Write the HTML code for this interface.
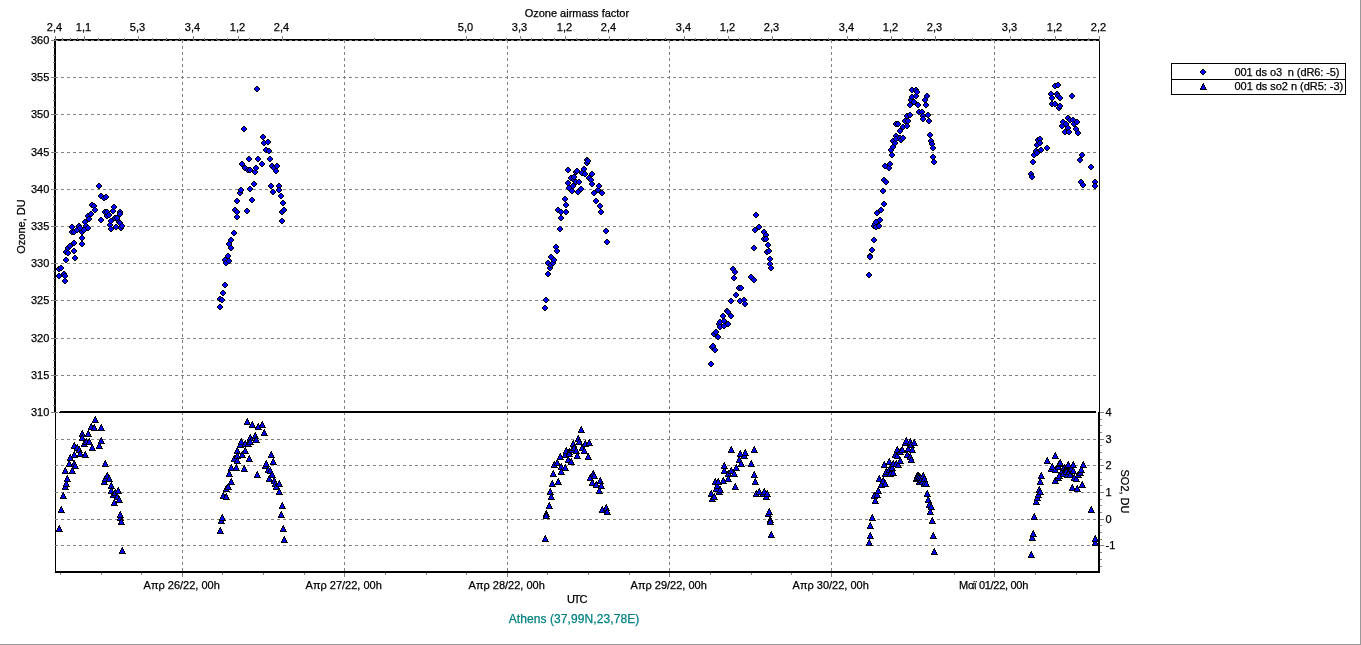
<!DOCTYPE html>
<html lang="el"><head><meta charset="utf-8"><title>Ozone / SO2 chart</title>
<style>
html,body{margin:0;padding:0;background:#fff;overflow:hidden}
body{width:1361px;height:645px;position:relative}
svg{position:absolute;left:0;top:0;display:block}
text{font-family:"Liberation Sans",Arial,sans-serif;font-size:11px;fill:#000;stroke:#000;stroke-width:0.25px}
.g{shape-rendering:crispEdges}
.k{fill:#000}.b{fill:#00f}
.gr{stroke:#808080;stroke-width:1;stroke-dasharray:3 3;fill:none}
.tk{stroke:#808080;stroke-width:1;fill:none}
.ax{fill:#000}
.m{text-anchor:middle}.e{text-anchor:end}
</style></head><body>
<svg width="1361" height="645" viewBox="0 0 1361 645">
<rect width="1361" height="645" fill="#fff"/>
<g class="g">
<rect x="1360" y="0" width="1" height="645" fill="#999"/>
<rect x="0" y="644" width="1361" height="1" fill="#999"/>
<rect class="ax" x="54" y="39" width="2" height="374"/>
<rect class="ax" x="55" y="413" width="1" height="160"/>
<rect class="ax" x="54" y="39" width="1046" height="2"/>
<rect class="ax" x="1099" y="39" width="1" height="373"/>
<rect class="ax" x="1098" y="412" width="2" height="161"/>
<rect class="ax" x="55" y="571" width="1045" height="2"/>
<path class="gr" d="M55 40.5H1097"/>
<path class="gr" d="M55 77.5H1097"/>
<path class="gr" d="M55 114.5H1097"/>
<path class="gr" d="M55 152.5H1097"/>
<path class="gr" d="M55 189.5H1097"/>
<path class="gr" d="M55 226.5H1097"/>
<path class="gr" d="M55 263.5H1097"/>
<path class="gr" d="M55 300.5H1097"/>
<path class="gr" d="M55 338.5H1097"/>
<path class="gr" d="M55 375.5H1097"/>
<path class="gr" d="M55 439.5H1097"/>
<path class="gr" d="M55 465.5H1097"/>
<path class="gr" d="M55 492.5H1097"/>
<path class="gr" d="M55 519.5H1097"/>
<path class="gr" d="M55 545.5H1097"/>
<path class="gr" d="M182.5 40V571"/>
<path class="gr" d="M344.5 40V571"/>
<path class="gr" d="M507.5 40V571"/>
<path class="gr" d="M669.5 40V571"/>
<path class="gr" d="M831.5 40V571"/>
<path class="gr" d="M994.5 40V571"/>
<path class="tk" d="M51 40.5H58"/>
<path class="tk" d="M51 77.5H58"/>
<path class="tk" d="M51 114.5H58"/>
<path class="tk" d="M51 152.5H58"/>
<path class="tk" d="M51 189.5H58"/>
<path class="tk" d="M51 226.5H58"/>
<path class="tk" d="M51 263.5H58"/>
<path class="tk" d="M51 300.5H58"/>
<path class="tk" d="M51 338.5H58"/>
<path class="tk" d="M51 375.5H58"/>
<path class="tk" d="M51 412.5H58"/>
<path class="tk" d="M53 47.5H55"/>
<path class="tk" d="M53 55.5H55"/>
<path class="tk" d="M53 62.5H55"/>
<path class="tk" d="M53 70.5H55"/>
<path class="tk" d="M53 85.5H55"/>
<path class="tk" d="M53 92.5H55"/>
<path class="tk" d="M53 100.5H55"/>
<path class="tk" d="M53 107.5H55"/>
<path class="tk" d="M53 122.5H55"/>
<path class="tk" d="M53 129.5H55"/>
<path class="tk" d="M53 137.5H55"/>
<path class="tk" d="M53 144.5H55"/>
<path class="tk" d="M53 159.5H55"/>
<path class="tk" d="M53 166.5H55"/>
<path class="tk" d="M53 174.5H55"/>
<path class="tk" d="M53 181.5H55"/>
<path class="tk" d="M53 196.5H55"/>
<path class="tk" d="M53 204.5H55"/>
<path class="tk" d="M53 211.5H55"/>
<path class="tk" d="M53 219.5H55"/>
<path class="tk" d="M53 233.5H55"/>
<path class="tk" d="M53 241.5H55"/>
<path class="tk" d="M53 248.5H55"/>
<path class="tk" d="M53 256.5H55"/>
<path class="tk" d="M53 271.5H55"/>
<path class="tk" d="M53 278.5H55"/>
<path class="tk" d="M53 286.5H55"/>
<path class="tk" d="M53 293.5H55"/>
<path class="tk" d="M53 308.5H55"/>
<path class="tk" d="M53 315.5H55"/>
<path class="tk" d="M53 323.5H55"/>
<path class="tk" d="M53 330.5H55"/>
<path class="tk" d="M53 345.5H55"/>
<path class="tk" d="M53 352.5H55"/>
<path class="tk" d="M53 360.5H55"/>
<path class="tk" d="M53 367.5H55"/>
<path class="tk" d="M53 382.5H55"/>
<path class="tk" d="M53 390.5H55"/>
<path class="tk" d="M53 397.5H55"/>
<path class="tk" d="M53 405.5H55"/>
<path class="tk" d="M1100 412.5H1104"/>
<path class="tk" d="M1100 439.5H1104"/>
<path class="tk" d="M1100 465.5H1104"/>
<path class="tk" d="M1100 492.5H1104"/>
<path class="tk" d="M1100 519.5H1104"/>
<path class="tk" d="M1100 545.5H1104"/>
<path class="tk" d="M1100 419.5H1102"/>
<path class="tk" d="M1100 425.5H1102"/>
<path class="tk" d="M1100 432.5H1102"/>
<path class="tk" d="M1100 445.5H1102"/>
<path class="tk" d="M1100 452.5H1102"/>
<path class="tk" d="M1100 459.5H1102"/>
<path class="tk" d="M1100 472.5H1102"/>
<path class="tk" d="M1100 479.5H1102"/>
<path class="tk" d="M1100 485.5H1102"/>
<path class="tk" d="M1100 499.5H1102"/>
<path class="tk" d="M1100 505.5H1102"/>
<path class="tk" d="M1100 512.5H1102"/>
<path class="tk" d="M1100 525.5H1102"/>
<path class="tk" d="M1100 532.5H1102"/>
<path class="tk" d="M1100 539.5H1102"/>
<path class="tk" d="M1100 552.5H1102"/>
<path class="tk" d="M1100 559.5H1102"/>
<path class="tk" d="M1100 566.5H1102"/>
<path class="tk" d="M55.5 36V41"/>
<path class="tk" d="M84.5 36V41"/>
<path class="tk" d="M138.5 36V41"/>
<path class="tk" d="M193.5 36V41"/>
<path class="tk" d="M238.5 36V41"/>
<path class="tk" d="M282.5 36V41"/>
<path class="tk" d="M466.5 36V41"/>
<path class="tk" d="M520.5 36V41"/>
<path class="tk" d="M565.5 36V41"/>
<path class="tk" d="M609.5 36V41"/>
<path class="tk" d="M684.5 36V41"/>
<path class="tk" d="M728.5 36V41"/>
<path class="tk" d="M772.5 36V41"/>
<path class="tk" d="M847.5 36V41"/>
<path class="tk" d="M891.5 36V41"/>
<path class="tk" d="M935.5 36V41"/>
<path class="tk" d="M1010.5 36V41"/>
<path class="tk" d="M1055.5 36V41"/>
<path class="tk" d="M1099.5 36V41"/>
<path class="tk" d="M62.5 38V40"/>
<path class="tk" d="M70.5 38V40"/>
<path class="tk" d="M77.5 38V40"/>
<path class="tk" d="M98.5 38V40"/>
<path class="tk" d="M111.5 38V40"/>
<path class="tk" d="M124.5 38V40"/>
<path class="tk" d="M152.5 38V40"/>
<path class="tk" d="M166.5 38V40"/>
<path class="tk" d="M179.5 38V40"/>
<path class="tk" d="M204.5 38V40"/>
<path class="tk" d="M216.5 38V40"/>
<path class="tk" d="M227.5 38V40"/>
<path class="tk" d="M249.5 38V40"/>
<path class="tk" d="M260.5 38V40"/>
<path class="tk" d="M271.5 38V40"/>
<path class="tk" d="M328.5 38V40"/>
<path class="tk" d="M374.5 38V40"/>
<path class="tk" d="M420.5 38V40"/>
<path class="tk" d="M480.5 38V40"/>
<path class="tk" d="M493.5 38V40"/>
<path class="tk" d="M506.5 38V40"/>
<path class="tk" d="M531.5 38V40"/>
<path class="tk" d="M542.5 38V40"/>
<path class="tk" d="M554.5 38V40"/>
<path class="tk" d="M576.5 38V40"/>
<path class="tk" d="M587.5 38V40"/>
<path class="tk" d="M598.5 38V40"/>
<path class="tk" d="M628.5 38V40"/>
<path class="tk" d="M646.5 38V40"/>
<path class="tk" d="M665.5 38V40"/>
<path class="tk" d="M695.5 38V40"/>
<path class="tk" d="M706.5 38V40"/>
<path class="tk" d="M717.5 38V40"/>
<path class="tk" d="M739.5 38V40"/>
<path class="tk" d="M750.5 38V40"/>
<path class="tk" d="M761.5 38V40"/>
<path class="tk" d="M791.5 38V40"/>
<path class="tk" d="M810.5 38V40"/>
<path class="tk" d="M828.5 38V40"/>
<path class="tk" d="M858.5 38V40"/>
<path class="tk" d="M869.5 38V40"/>
<path class="tk" d="M880.5 38V40"/>
<path class="tk" d="M902.5 38V40"/>
<path class="tk" d="M913.5 38V40"/>
<path class="tk" d="M924.5 38V40"/>
<path class="tk" d="M954.5 38V40"/>
<path class="tk" d="M972.5 38V40"/>
<path class="tk" d="M991.5 38V40"/>
<path class="tk" d="M1021.5 38V40"/>
<path class="tk" d="M1032.5 38V40"/>
<path class="tk" d="M1044.5 38V40"/>
<path class="tk" d="M1066.5 38V40"/>
<path class="tk" d="M1077.5 38V40"/>
<path class="tk" d="M1088.5 38V40"/>
<path class="tk" d="M182.5 573V577"/>
<path class="tk" d="M344.5 573V577"/>
<path class="tk" d="M507.5 573V577"/>
<path class="tk" d="M669.5 573V577"/>
<path class="tk" d="M831.5 573V577"/>
<path class="tk" d="M994.5 573V577"/>
<path class="tk" d="M60.5 573V575"/>
<path class="tk" d="M101.5 573V575"/>
<path class="tk" d="M141.5 573V575"/>
<path class="tk" d="M222.5 573V575"/>
<path class="tk" d="M263.5 573V575"/>
<path class="tk" d="M304.5 573V575"/>
<path class="tk" d="M385.5 573V575"/>
<path class="tk" d="M426.5 573V575"/>
<path class="tk" d="M466.5 573V575"/>
<path class="tk" d="M547.5 573V575"/>
<path class="tk" d="M588.5 573V575"/>
<path class="tk" d="M629.5 573V575"/>
<path class="tk" d="M710.5 573V575"/>
<path class="tk" d="M751.5 573V575"/>
<path class="tk" d="M791.5 573V575"/>
<path class="tk" d="M872.5 573V575"/>
<path class="tk" d="M913.5 573V575"/>
<path class="tk" d="M954.5 573V575"/>
<path class="tk" d="M1035.5 573V575"/>
<path class="tk" d="M1076.5 573V575"/>
<rect class="ax" x="60" y="411" width="1036" height="2"/><rect class="ax" x="59" y="412" width="1" height="1"/>
</g>
<g class="g">
<path class="k" d="M58 266h2v1h1v1h1v2h-1v1h-1v1h-2v-1h-1v-1h-1v-2h1v-1h1z"/><path class="b" d="M58 267h2v1h1v2h-1v1h-2v-1h-1v-2h1z"/>
<path class="k" d="M58 273h2v1h1v1h1v2h-1v1h-1v1h-2v-1h-1v-1h-1v-2h1v-1h1z"/><path class="b" d="M58 274h2v1h1v2h-1v1h-2v-1h-1v-2h1z"/>
<path class="k" d="M60 265h2v1h1v1h1v2h-1v1h-1v1h-2v-1h-1v-1h-1v-2h1v-1h1z"/><path class="b" d="M60 266h2v1h1v2h-1v1h-2v-1h-1v-2h1z"/>
<path class="k" d="M63 271h2v1h1v1h1v2h-1v1h-1v1h-2v-1h-1v-1h-1v-2h1v-1h1z"/><path class="b" d="M63 272h2v1h1v2h-1v1h-2v-1h-1v-2h1z"/>
<path class="k" d="M64 278h2v1h1v1h1v2h-1v1h-1v1h-2v-1h-1v-1h-1v-2h1v-1h1z"/><path class="b" d="M64 279h2v1h1v2h-1v1h-2v-1h-1v-2h1z"/>
<path class="k" d="M64 273h2v1h1v1h1v2h-1v1h-1v1h-2v-1h-1v-1h-1v-2h1v-1h1z"/><path class="b" d="M64 274h2v1h1v2h-1v1h-2v-1h-1v-2h1z"/>
<path class="k" d="M65 257h2v1h1v1h1v2h-1v1h-1v1h-2v-1h-1v-1h-1v-2h1v-1h1z"/><path class="b" d="M65 258h2v1h1v2h-1v1h-2v-1h-1v-2h1z"/>
<path class="k" d="M65 249h2v1h1v1h1v2h-1v1h-1v1h-2v-1h-1v-1h-1v-2h1v-1h1z"/><path class="b" d="M65 250h2v1h1v2h-1v1h-2v-1h-1v-2h1z"/>
<path class="k" d="M67 250h2v1h1v1h1v2h-1v1h-1v1h-2v-1h-1v-1h-1v-2h1v-1h1z"/><path class="b" d="M67 251h2v1h1v2h-1v1h-2v-1h-1v-2h1z"/>
<path class="k" d="M67 245h2v1h1v1h1v2h-1v1h-1v1h-2v-1h-1v-1h-1v-2h1v-1h1z"/><path class="b" d="M67 246h2v1h1v2h-1v1h-2v-1h-1v-2h1z"/>
<path class="k" d="M69 243h2v1h1v1h1v2h-1v1h-1v1h-2v-1h-1v-1h-1v-2h1v-1h1z"/><path class="b" d="M69 244h2v1h1v2h-1v1h-2v-1h-1v-2h1z"/>
<path class="k" d="M71 224h2v1h1v1h1v2h-1v1h-1v1h-2v-1h-1v-1h-1v-2h1v-1h1z"/><path class="b" d="M71 225h2v1h1v2h-1v1h-2v-1h-1v-2h1z"/>
<path class="k" d="M71 229h2v1h1v1h1v2h-1v1h-1v1h-2v-1h-1v-1h-1v-2h1v-1h1z"/><path class="b" d="M71 230h2v1h1v2h-1v1h-2v-1h-1v-2h1z"/>
<path class="k" d="M73 240h2v1h1v1h1v2h-1v1h-1v1h-2v-1h-1v-1h-1v-2h1v-1h1z"/><path class="b" d="M73 241h2v1h1v2h-1v1h-2v-1h-1v-2h1z"/>
<path class="k" d="M73 248h2v1h1v1h1v2h-1v1h-1v1h-2v-1h-1v-1h-1v-2h1v-1h1z"/><path class="b" d="M73 249h2v1h1v2h-1v1h-2v-1h-1v-2h1z"/>
<path class="k" d="M73 229h2v1h1v1h1v2h-1v1h-1v1h-2v-1h-1v-1h-1v-2h1v-1h1z"/><path class="b" d="M73 230h2v1h1v2h-1v1h-2v-1h-1v-2h1z"/>
<path class="k" d="M74 255h2v1h1v1h1v2h-1v1h-1v1h-2v-1h-1v-1h-1v-2h1v-1h1z"/><path class="b" d="M74 256h2v1h1v2h-1v1h-2v-1h-1v-2h1z"/>
<path class="k" d="M76 227h2v1h1v1h1v2h-1v1h-1v1h-2v-1h-1v-1h-1v-2h1v-1h1z"/><path class="b" d="M76 228h2v1h1v2h-1v1h-2v-1h-1v-2h1z"/>
<path class="k" d="M78 223h2v1h1v1h1v2h-1v1h-1v1h-2v-1h-1v-1h-1v-2h1v-1h1z"/><path class="b" d="M78 224h2v1h1v2h-1v1h-2v-1h-1v-2h1z"/>
<path class="k" d="M79 225h2v1h1v1h1v2h-1v1h-1v1h-2v-1h-1v-1h-1v-2h1v-1h1z"/><path class="b" d="M79 226h2v1h1v2h-1v1h-2v-1h-1v-2h1z"/>
<path class="k" d="M81 235h2v1h1v1h1v2h-1v1h-1v1h-2v-1h-1v-1h-1v-2h1v-1h1z"/><path class="b" d="M81 236h2v1h1v2h-1v1h-2v-1h-1v-2h1z"/>
<path class="k" d="M81 241h2v1h1v1h1v2h-1v1h-1v1h-2v-1h-1v-1h-1v-2h1v-1h1z"/><path class="b" d="M81 242h2v1h1v2h-1v1h-2v-1h-1v-2h1z"/>
<path class="k" d="M81 229h2v1h1v1h1v2h-1v1h-1v1h-2v-1h-1v-1h-1v-2h1v-1h1z"/><path class="b" d="M81 230h2v1h1v2h-1v1h-2v-1h-1v-2h1z"/>
<path class="k" d="M83 227h2v1h1v1h1v2h-1v1h-1v1h-2v-1h-1v-1h-1v-2h1v-1h1z"/><path class="b" d="M83 228h2v1h1v2h-1v1h-2v-1h-1v-2h1z"/>
<path class="k" d="M84 219h2v1h1v1h1v2h-1v1h-1v1h-2v-1h-1v-1h-1v-2h1v-1h1z"/><path class="b" d="M84 220h2v1h1v2h-1v1h-2v-1h-1v-2h1z"/>
<path class="k" d="M85 223h2v1h1v1h1v2h-1v1h-1v1h-2v-1h-1v-1h-1v-2h1v-1h1z"/><path class="b" d="M85 224h2v1h1v2h-1v1h-2v-1h-1v-2h1z"/>
<path class="k" d="M87 225h2v1h1v1h1v2h-1v1h-1v1h-2v-1h-1v-1h-1v-2h1v-1h1z"/><path class="b" d="M87 226h2v1h1v2h-1v1h-2v-1h-1v-2h1z"/>
<path class="k" d="M87 213h2v1h1v1h1v2h-1v1h-1v1h-2v-1h-1v-1h-1v-2h1v-1h1z"/><path class="b" d="M87 214h2v1h1v2h-1v1h-2v-1h-1v-2h1z"/>
<path class="k" d="M88 216h2v1h1v1h1v2h-1v1h-1v1h-2v-1h-1v-1h-1v-2h1v-1h1z"/><path class="b" d="M88 217h2v1h1v2h-1v1h-2v-1h-1v-2h1z"/>
<path class="k" d="M90 211h2v1h1v1h1v2h-1v1h-1v1h-2v-1h-1v-1h-1v-2h1v-1h1z"/><path class="b" d="M90 212h2v1h1v2h-1v1h-2v-1h-1v-2h1z"/>
<path class="k" d="M91 202h2v1h1v1h1v2h-1v1h-1v1h-2v-1h-1v-1h-1v-2h1v-1h1z"/><path class="b" d="M91 203h2v1h1v2h-1v1h-2v-1h-1v-2h1z"/>
<path class="k" d="M93 203h2v1h1v1h1v2h-1v1h-1v1h-2v-1h-1v-1h-1v-2h1v-1h1z"/><path class="b" d="M93 204h2v1h1v2h-1v1h-2v-1h-1v-2h1z"/>
<path class="k" d="M94 207h2v1h1v1h1v2h-1v1h-1v1h-2v-1h-1v-1h-1v-2h1v-1h1z"/><path class="b" d="M94 208h2v1h1v2h-1v1h-2v-1h-1v-2h1z"/>
<path class="k" d="M98 183h2v1h1v1h1v2h-1v1h-1v1h-2v-1h-1v-1h-1v-2h1v-1h1z"/><path class="b" d="M98 184h2v1h1v2h-1v1h-2v-1h-1v-2h1z"/>
<path class="k" d="M100 193h2v1h1v1h1v2h-1v1h-1v1h-2v-1h-1v-1h-1v-2h1v-1h1z"/><path class="b" d="M100 194h2v1h1v2h-1v1h-2v-1h-1v-2h1z"/>
<path class="k" d="M100 217h2v1h1v1h1v2h-1v1h-1v1h-2v-1h-1v-1h-1v-2h1v-1h1z"/><path class="b" d="M100 218h2v1h1v2h-1v1h-2v-1h-1v-2h1z"/>
<path class="k" d="M103 195h2v1h1v1h1v2h-1v1h-1v1h-2v-1h-1v-1h-1v-2h1v-1h1z"/><path class="b" d="M103 196h2v1h1v2h-1v1h-2v-1h-1v-2h1z"/>
<path class="k" d="M104 209h2v1h1v1h1v2h-1v1h-1v1h-2v-1h-1v-1h-1v-2h1v-1h1z"/><path class="b" d="M104 210h2v1h1v2h-1v1h-2v-1h-1v-2h1z"/>
<path class="k" d="M105 194h2v1h1v1h1v2h-1v1h-1v1h-2v-1h-1v-1h-1v-2h1v-1h1z"/><path class="b" d="M105 195h2v1h1v2h-1v1h-2v-1h-1v-2h1z"/>
<path class="k" d="M106 213h2v1h1v1h1v2h-1v1h-1v1h-2v-1h-1v-1h-1v-2h1v-1h1z"/><path class="b" d="M106 214h2v1h1v2h-1v1h-2v-1h-1v-2h1z"/>
<path class="k" d="M106 209h2v1h1v1h1v2h-1v1h-1v1h-2v-1h-1v-1h-1v-2h1v-1h1z"/><path class="b" d="M106 210h2v1h1v2h-1v1h-2v-1h-1v-2h1z"/>
<path class="k" d="M108 212h2v1h1v1h1v2h-1v1h-1v1h-2v-1h-1v-1h-1v-2h1v-1h1z"/><path class="b" d="M108 213h2v1h1v2h-1v1h-2v-1h-1v-2h1z"/>
<path class="k" d="M109 222h2v1h1v1h1v2h-1v1h-1v1h-2v-1h-1v-1h-1v-2h1v-1h1z"/><path class="b" d="M109 223h2v1h1v2h-1v1h-2v-1h-1v-2h1z"/>
<path class="k" d="M110 218h2v1h1v1h1v2h-1v1h-1v1h-2v-1h-1v-1h-1v-2h1v-1h1z"/><path class="b" d="M110 219h2v1h1v2h-1v1h-2v-1h-1v-2h1z"/>
<path class="k" d="M110 226h2v1h1v1h1v2h-1v1h-1v1h-2v-1h-1v-1h-1v-2h1v-1h1z"/><path class="b" d="M110 227h2v1h1v2h-1v1h-2v-1h-1v-2h1z"/>
<path class="k" d="M112 208h2v1h1v1h1v2h-1v1h-1v1h-2v-1h-1v-1h-1v-2h1v-1h1z"/><path class="b" d="M112 209h2v1h1v2h-1v1h-2v-1h-1v-2h1z"/>
<path class="k" d="M113 204h2v1h1v1h1v2h-1v1h-1v1h-2v-1h-1v-1h-1v-2h1v-1h1z"/><path class="b" d="M113 205h2v1h1v2h-1v1h-2v-1h-1v-2h1z"/>
<path class="k" d="M114 215h2v1h1v1h1v2h-1v1h-1v1h-2v-1h-1v-1h-1v-2h1v-1h1z"/><path class="b" d="M114 216h2v1h1v2h-1v1h-2v-1h-1v-2h1z"/>
<path class="k" d="M115 224h2v1h1v1h1v2h-1v1h-1v1h-2v-1h-1v-1h-1v-2h1v-1h1z"/><path class="b" d="M115 225h2v1h1v2h-1v1h-2v-1h-1v-2h1z"/>
<path class="k" d="M116 215h2v1h1v1h1v2h-1v1h-1v1h-2v-1h-1v-1h-1v-2h1v-1h1z"/><path class="b" d="M116 216h2v1h1v2h-1v1h-2v-1h-1v-2h1z"/>
<path class="k" d="M118 219h2v1h1v1h1v2h-1v1h-1v1h-2v-1h-1v-1h-1v-2h1v-1h1z"/><path class="b" d="M118 220h2v1h1v2h-1v1h-2v-1h-1v-2h1z"/>
<path class="k" d="M119 209h2v1h1v1h1v2h-1v1h-1v1h-2v-1h-1v-1h-1v-2h1v-1h1z"/><path class="b" d="M119 210h2v1h1v2h-1v1h-2v-1h-1v-2h1z"/>
<path class="k" d="M119 211h2v1h1v1h1v2h-1v1h-1v1h-2v-1h-1v-1h-1v-2h1v-1h1z"/><path class="b" d="M119 212h2v1h1v2h-1v1h-2v-1h-1v-2h1z"/>
<path class="k" d="M119 220h2v1h1v1h1v2h-1v1h-1v1h-2v-1h-1v-1h-1v-2h1v-1h1z"/><path class="b" d="M119 221h2v1h1v2h-1v1h-2v-1h-1v-2h1z"/>
<path class="k" d="M120 225h2v1h1v1h1v2h-1v1h-1v1h-2v-1h-1v-1h-1v-2h1v-1h1z"/><path class="b" d="M120 226h2v1h1v2h-1v1h-2v-1h-1v-2h1z"/>
<path class="k" d="M121 223h2v1h1v1h1v2h-1v1h-1v1h-2v-1h-1v-1h-1v-2h1v-1h1z"/><path class="b" d="M121 224h2v1h1v2h-1v1h-2v-1h-1v-2h1z"/>
<path class="k" d="M219 304h2v1h1v1h1v2h-1v1h-1v1h-2v-1h-1v-1h-1v-2h1v-1h1z"/><path class="b" d="M219 305h2v1h1v2h-1v1h-2v-1h-1v-2h1z"/>
<path class="k" d="M219 296h2v1h1v1h1v2h-1v1h-1v1h-2v-1h-1v-1h-1v-2h1v-1h1z"/><path class="b" d="M219 297h2v1h1v2h-1v1h-2v-1h-1v-2h1z"/>
<path class="k" d="M221 297h2v1h1v1h1v2h-1v1h-1v1h-2v-1h-1v-1h-1v-2h1v-1h1z"/><path class="b" d="M221 298h2v1h1v2h-1v1h-2v-1h-1v-2h1z"/>
<path class="k" d="M222 290h2v1h1v1h1v2h-1v1h-1v1h-2v-1h-1v-1h-1v-2h1v-1h1z"/><path class="b" d="M222 291h2v1h1v2h-1v1h-2v-1h-1v-2h1z"/>
<path class="k" d="M224 257h2v1h1v1h1v2h-1v1h-1v1h-2v-1h-1v-1h-1v-2h1v-1h1z"/><path class="b" d="M224 258h2v1h1v2h-1v1h-2v-1h-1v-2h1z"/>
<path class="k" d="M224 282h2v1h1v1h1v2h-1v1h-1v1h-2v-1h-1v-1h-1v-2h1v-1h1z"/><path class="b" d="M224 283h2v1h1v2h-1v1h-2v-1h-1v-2h1z"/>
<path class="k" d="M225 260h2v1h1v1h1v2h-1v1h-1v1h-2v-1h-1v-1h-1v-2h1v-1h1z"/><path class="b" d="M225 261h2v1h1v2h-1v1h-2v-1h-1v-2h1z"/>
<path class="k" d="M227 253h2v1h1v1h1v2h-1v1h-1v1h-2v-1h-1v-1h-1v-2h1v-1h1z"/><path class="b" d="M227 254h2v1h1v2h-1v1h-2v-1h-1v-2h1z"/>
<path class="k" d="M228 241h2v1h1v1h1v2h-1v1h-1v1h-2v-1h-1v-1h-1v-2h1v-1h1z"/><path class="b" d="M228 242h2v1h1v2h-1v1h-2v-1h-1v-2h1z"/>
<path class="k" d="M228 258h2v1h1v1h1v2h-1v1h-1v1h-2v-1h-1v-1h-1v-2h1v-1h1z"/><path class="b" d="M228 259h2v1h1v2h-1v1h-2v-1h-1v-2h1z"/>
<path class="k" d="M230 237h2v1h1v1h1v2h-1v1h-1v1h-2v-1h-1v-1h-1v-2h1v-1h1z"/><path class="b" d="M230 238h2v1h1v2h-1v1h-2v-1h-1v-2h1z"/>
<path class="k" d="M230 245h2v1h1v1h1v2h-1v1h-1v1h-2v-1h-1v-1h-1v-2h1v-1h1z"/><path class="b" d="M230 246h2v1h1v2h-1v1h-2v-1h-1v-2h1z"/>
<path class="k" d="M233 230h2v1h1v1h1v2h-1v1h-1v1h-2v-1h-1v-1h-1v-2h1v-1h1z"/><path class="b" d="M233 231h2v1h1v2h-1v1h-2v-1h-1v-2h1z"/>
<path class="k" d="M234 207h2v1h1v1h1v2h-1v1h-1v1h-2v-1h-1v-1h-1v-2h1v-1h1z"/><path class="b" d="M234 208h2v1h1v2h-1v1h-2v-1h-1v-2h1z"/>
<path class="k" d="M236 198h2v1h1v1h1v2h-1v1h-1v1h-2v-1h-1v-1h-1v-2h1v-1h1z"/><path class="b" d="M236 199h2v1h1v2h-1v1h-2v-1h-1v-2h1z"/>
<path class="k" d="M236 209h2v1h1v1h1v2h-1v1h-1v1h-2v-1h-1v-1h-1v-2h1v-1h1z"/><path class="b" d="M236 210h2v1h1v2h-1v1h-2v-1h-1v-2h1z"/>
<path class="k" d="M236 214h2v1h1v1h1v2h-1v1h-1v1h-2v-1h-1v-1h-1v-2h1v-1h1z"/><path class="b" d="M236 215h2v1h1v2h-1v1h-2v-1h-1v-2h1z"/>
<path class="k" d="M239 190h2v1h1v1h1v2h-1v1h-1v1h-2v-1h-1v-1h-1v-2h1v-1h1z"/><path class="b" d="M239 191h2v1h1v2h-1v1h-2v-1h-1v-2h1z"/>
<path class="k" d="M240 187h2v1h1v1h1v2h-1v1h-1v1h-2v-1h-1v-1h-1v-2h1v-1h1z"/><path class="b" d="M240 188h2v1h1v2h-1v1h-2v-1h-1v-2h1z"/>
<path class="k" d="M241 161h2v1h1v1h1v2h-1v1h-1v1h-2v-1h-1v-1h-1v-2h1v-1h1z"/><path class="b" d="M241 162h2v1h1v2h-1v1h-2v-1h-1v-2h1z"/>
<path class="k" d="M243 126h2v1h1v1h1v2h-1v1h-1v1h-2v-1h-1v-1h-1v-2h1v-1h1z"/><path class="b" d="M243 127h2v1h1v2h-1v1h-2v-1h-1v-2h1z"/>
<path class="k" d="M244 165h2v1h1v1h1v2h-1v1h-1v1h-2v-1h-1v-1h-1v-2h1v-1h1z"/><path class="b" d="M244 166h2v1h1v2h-1v1h-2v-1h-1v-2h1z"/>
<path class="k" d="M246 208h2v1h1v1h1v2h-1v1h-1v1h-2v-1h-1v-1h-1v-2h1v-1h1z"/><path class="b" d="M246 209h2v1h1v2h-1v1h-2v-1h-1v-2h1z"/>
<path class="k" d="M247 167h2v1h1v1h1v2h-1v1h-1v1h-2v-1h-1v-1h-1v-2h1v-1h1z"/><path class="b" d="M247 168h2v1h1v2h-1v1h-2v-1h-1v-2h1z"/>
<path class="k" d="M248 156h2v1h1v1h1v2h-1v1h-1v1h-2v-1h-1v-1h-1v-2h1v-1h1z"/><path class="b" d="M248 157h2v1h1v2h-1v1h-2v-1h-1v-2h1z"/>
<path class="k" d="M249 167h2v1h1v1h1v2h-1v1h-1v1h-2v-1h-1v-1h-1v-2h1v-1h1z"/><path class="b" d="M249 168h2v1h1v2h-1v1h-2v-1h-1v-2h1z"/>
<path class="k" d="M249 186h2v1h1v1h1v2h-1v1h-1v1h-2v-1h-1v-1h-1v-2h1v-1h1z"/><path class="b" d="M249 187h2v1h1v2h-1v1h-2v-1h-1v-2h1z"/>
<path class="k" d="M251 197h2v1h1v1h1v2h-1v1h-1v1h-2v-1h-1v-1h-1v-2h1v-1h1z"/><path class="b" d="M251 198h2v1h1v2h-1v1h-2v-1h-1v-2h1z"/>
<path class="k" d="M253 181h2v1h1v1h1v2h-1v1h-1v1h-2v-1h-1v-1h-1v-2h1v-1h1z"/><path class="b" d="M253 182h2v1h1v2h-1v1h-2v-1h-1v-2h1z"/>
<path class="k" d="M254 169h2v1h1v1h1v2h-1v1h-1v1h-2v-1h-1v-1h-1v-2h1v-1h1z"/><path class="b" d="M254 170h2v1h1v2h-1v1h-2v-1h-1v-2h1z"/>
<path class="k" d="M255 165h2v1h1v1h1v2h-1v1h-1v1h-2v-1h-1v-1h-1v-2h1v-1h1z"/><path class="b" d="M255 166h2v1h1v2h-1v1h-2v-1h-1v-2h1z"/>
<path class="k" d="M256 86h2v1h1v1h1v2h-1v1h-1v1h-2v-1h-1v-1h-1v-2h1v-1h1z"/><path class="b" d="M256 87h2v1h1v2h-1v1h-2v-1h-1v-2h1z"/>
<path class="k" d="M257 156h2v1h1v1h1v2h-1v1h-1v1h-2v-1h-1v-1h-1v-2h1v-1h1z"/><path class="b" d="M257 157h2v1h1v2h-1v1h-2v-1h-1v-2h1z"/>
<path class="k" d="M261 161h2v1h1v1h1v2h-1v1h-1v1h-2v-1h-1v-1h-1v-2h1v-1h1z"/><path class="b" d="M261 162h2v1h1v2h-1v1h-2v-1h-1v-2h1z"/>
<path class="k" d="M262 134h2v1h1v1h1v2h-1v1h-1v1h-2v-1h-1v-1h-1v-2h1v-1h1z"/><path class="b" d="M262 135h2v1h1v2h-1v1h-2v-1h-1v-2h1z"/>
<path class="k" d="M263 140h2v1h1v1h1v2h-1v1h-1v1h-2v-1h-1v-1h-1v-2h1v-1h1z"/><path class="b" d="M263 141h2v1h1v2h-1v1h-2v-1h-1v-2h1z"/>
<path class="k" d="M265 147h2v1h1v1h1v2h-1v1h-1v1h-2v-1h-1v-1h-1v-2h1v-1h1z"/><path class="b" d="M265 148h2v1h1v2h-1v1h-2v-1h-1v-2h1z"/>
<path class="k" d="M267 139h2v1h1v1h1v2h-1v1h-1v1h-2v-1h-1v-1h-1v-2h1v-1h1z"/><path class="b" d="M267 140h2v1h1v2h-1v1h-2v-1h-1v-2h1z"/>
<path class="k" d="M268 148h2v1h1v1h1v2h-1v1h-1v1h-2v-1h-1v-1h-1v-2h1v-1h1z"/><path class="b" d="M268 149h2v1h1v2h-1v1h-2v-1h-1v-2h1z"/>
<path class="k" d="M269 156h2v1h1v1h1v2h-1v1h-1v1h-2v-1h-1v-1h-1v-2h1v-1h1z"/><path class="b" d="M269 157h2v1h1v2h-1v1h-2v-1h-1v-2h1z"/>
<path class="k" d="M270 183h2v1h1v1h1v2h-1v1h-1v1h-2v-1h-1v-1h-1v-2h1v-1h1z"/><path class="b" d="M270 184h2v1h1v2h-1v1h-2v-1h-1v-2h1z"/>
<path class="k" d="M271 163h2v1h1v1h1v2h-1v1h-1v1h-2v-1h-1v-1h-1v-2h1v-1h1z"/><path class="b" d="M271 164h2v1h1v2h-1v1h-2v-1h-1v-2h1z"/>
<path class="k" d="M272 189h2v1h1v1h1v2h-1v1h-1v1h-2v-1h-1v-1h-1v-2h1v-1h1z"/><path class="b" d="M272 190h2v1h1v2h-1v1h-2v-1h-1v-2h1z"/>
<path class="k" d="M273 165h2v1h1v1h1v2h-1v1h-1v1h-2v-1h-1v-1h-1v-2h1v-1h1z"/><path class="b" d="M273 166h2v1h1v2h-1v1h-2v-1h-1v-2h1z"/>
<path class="k" d="M275 168h2v1h1v1h1v2h-1v1h-1v1h-2v-1h-1v-1h-1v-2h1v-1h1z"/><path class="b" d="M275 169h2v1h1v2h-1v1h-2v-1h-1v-2h1z"/>
<path class="k" d="M276 163h2v1h1v1h1v2h-1v1h-1v1h-2v-1h-1v-1h-1v-2h1v-1h1z"/><path class="b" d="M276 164h2v1h1v2h-1v1h-2v-1h-1v-2h1z"/>
<path class="k" d="M278 183h2v1h1v1h1v2h-1v1h-1v1h-2v-1h-1v-1h-1v-2h1v-1h1z"/><path class="b" d="M278 184h2v1h1v2h-1v1h-2v-1h-1v-2h1z"/>
<path class="k" d="M278 187h2v1h1v1h1v2h-1v1h-1v1h-2v-1h-1v-1h-1v-2h1v-1h1z"/><path class="b" d="M278 188h2v1h1v2h-1v1h-2v-1h-1v-2h1z"/>
<path class="k" d="M280 193h2v1h1v1h1v2h-1v1h-1v1h-2v-1h-1v-1h-1v-2h1v-1h1z"/><path class="b" d="M280 194h2v1h1v2h-1v1h-2v-1h-1v-2h1z"/>
<path class="k" d="M281 218h2v1h1v1h1v2h-1v1h-1v1h-2v-1h-1v-1h-1v-2h1v-1h1z"/><path class="b" d="M281 219h2v1h1v2h-1v1h-2v-1h-1v-2h1z"/>
<path class="k" d="M281 209h2v1h1v1h1v2h-1v1h-1v1h-2v-1h-1v-1h-1v-2h1v-1h1z"/><path class="b" d="M281 210h2v1h1v2h-1v1h-2v-1h-1v-2h1z"/>
<path class="k" d="M282 200h2v1h1v1h1v2h-1v1h-1v1h-2v-1h-1v-1h-1v-2h1v-1h1z"/><path class="b" d="M282 201h2v1h1v2h-1v1h-2v-1h-1v-2h1z"/>
<path class="k" d="M283 207h2v1h1v1h1v2h-1v1h-1v1h-2v-1h-1v-1h-1v-2h1v-1h1z"/><path class="b" d="M283 208h2v1h1v2h-1v1h-2v-1h-1v-2h1z"/>
<path class="k" d="M544 305h2v1h1v1h1v2h-1v1h-1v1h-2v-1h-1v-1h-1v-2h1v-1h1z"/><path class="b" d="M544 306h2v1h1v2h-1v1h-2v-1h-1v-2h1z"/>
<path class="k" d="M545 297h2v1h1v1h1v2h-1v1h-1v1h-2v-1h-1v-1h-1v-2h1v-1h1z"/><path class="b" d="M545 298h2v1h1v2h-1v1h-2v-1h-1v-2h1z"/>
<path class="k" d="M547 271h2v1h1v1h1v2h-1v1h-1v1h-2v-1h-1v-1h-1v-2h1v-1h1z"/><path class="b" d="M547 272h2v1h1v2h-1v1h-2v-1h-1v-2h1z"/>
<path class="k" d="M547 260h2v1h1v1h1v2h-1v1h-1v1h-2v-1h-1v-1h-1v-2h1v-1h1z"/><path class="b" d="M547 261h2v1h1v2h-1v1h-2v-1h-1v-2h1z"/>
<path class="k" d="M549 265h2v1h1v1h1v2h-1v1h-1v1h-2v-1h-1v-1h-1v-2h1v-1h1z"/><path class="b" d="M549 266h2v1h1v2h-1v1h-2v-1h-1v-2h1z"/>
<path class="k" d="M550 254h2v1h1v1h1v2h-1v1h-1v1h-2v-1h-1v-1h-1v-2h1v-1h1z"/><path class="b" d="M550 255h2v1h1v2h-1v1h-2v-1h-1v-2h1z"/>
<path class="k" d="M550 262h2v1h1v1h1v2h-1v1h-1v1h-2v-1h-1v-1h-1v-2h1v-1h1z"/><path class="b" d="M550 263h2v1h1v2h-1v1h-2v-1h-1v-2h1z"/>
<path class="k" d="M552 260h2v1h1v1h1v2h-1v1h-1v1h-2v-1h-1v-1h-1v-2h1v-1h1z"/><path class="b" d="M552 261h2v1h1v2h-1v1h-2v-1h-1v-2h1z"/>
<path class="k" d="M553 257h2v1h1v1h1v2h-1v1h-1v1h-2v-1h-1v-1h-1v-2h1v-1h1z"/><path class="b" d="M553 258h2v1h1v2h-1v1h-2v-1h-1v-2h1z"/>
<path class="k" d="M555 244h2v1h1v1h1v2h-1v1h-1v1h-2v-1h-1v-1h-1v-2h1v-1h1z"/><path class="b" d="M555 245h2v1h1v2h-1v1h-2v-1h-1v-2h1z"/>
<path class="k" d="M556 248h2v1h1v1h1v2h-1v1h-1v1h-2v-1h-1v-1h-1v-2h1v-1h1z"/><path class="b" d="M556 249h2v1h1v2h-1v1h-2v-1h-1v-2h1z"/>
<path class="k" d="M557 207h2v1h1v1h1v2h-1v1h-1v1h-2v-1h-1v-1h-1v-2h1v-1h1z"/><path class="b" d="M557 208h2v1h1v2h-1v1h-2v-1h-1v-2h1z"/>
<path class="k" d="M559 226h2v1h1v1h1v2h-1v1h-1v1h-2v-1h-1v-1h-1v-2h1v-1h1z"/><path class="b" d="M559 227h2v1h1v2h-1v1h-2v-1h-1v-2h1z"/>
<path class="k" d="M560 209h2v1h1v1h1v2h-1v1h-1v1h-2v-1h-1v-1h-1v-2h1v-1h1z"/><path class="b" d="M560 210h2v1h1v2h-1v1h-2v-1h-1v-2h1z"/>
<path class="k" d="M560 215h2v1h1v1h1v2h-1v1h-1v1h-2v-1h-1v-1h-1v-2h1v-1h1z"/><path class="b" d="M560 216h2v1h1v2h-1v1h-2v-1h-1v-2h1z"/>
<path class="k" d="M564 196h2v1h1v1h1v2h-1v1h-1v1h-2v-1h-1v-1h-1v-2h1v-1h1z"/><path class="b" d="M564 197h2v1h1v2h-1v1h-2v-1h-1v-2h1z"/>
<path class="k" d="M565 202h2v1h1v1h1v2h-1v1h-1v1h-2v-1h-1v-1h-1v-2h1v-1h1z"/><path class="b" d="M565 203h2v1h1v2h-1v1h-2v-1h-1v-2h1z"/>
<path class="k" d="M565 209h2v1h1v1h1v2h-1v1h-1v1h-2v-1h-1v-1h-1v-2h1v-1h1z"/><path class="b" d="M565 210h2v1h1v2h-1v1h-2v-1h-1v-2h1z"/>
<path class="k" d="M567 167h2v1h1v1h1v2h-1v1h-1v1h-2v-1h-1v-1h-1v-2h1v-1h1z"/><path class="b" d="M567 168h2v1h1v2h-1v1h-2v-1h-1v-2h1z"/>
<path class="k" d="M567 180h2v1h1v1h1v2h-1v1h-1v1h-2v-1h-1v-1h-1v-2h1v-1h1z"/><path class="b" d="M567 181h2v1h1v2h-1v1h-2v-1h-1v-2h1z"/>
<path class="k" d="M568 185h2v1h1v1h1v2h-1v1h-1v1h-2v-1h-1v-1h-1v-2h1v-1h1z"/><path class="b" d="M568 186h2v1h1v2h-1v1h-2v-1h-1v-2h1z"/>
<path class="k" d="M570 175h2v1h1v1h1v2h-1v1h-1v1h-2v-1h-1v-1h-1v-2h1v-1h1z"/><path class="b" d="M570 176h2v1h1v2h-1v1h-2v-1h-1v-2h1z"/>
<path class="k" d="M571 188h2v1h1v1h1v2h-1v1h-1v1h-2v-1h-1v-1h-1v-2h1v-1h1z"/><path class="b" d="M571 189h2v1h1v2h-1v1h-2v-1h-1v-2h1z"/>
<path class="k" d="M572 183h2v1h1v1h1v2h-1v1h-1v1h-2v-1h-1v-1h-1v-2h1v-1h1z"/><path class="b" d="M572 184h2v1h1v2h-1v1h-2v-1h-1v-2h1z"/>
<path class="k" d="M573 177h2v1h1v1h1v2h-1v1h-1v1h-2v-1h-1v-1h-1v-2h1v-1h1z"/><path class="b" d="M573 178h2v1h1v2h-1v1h-2v-1h-1v-2h1z"/>
<path class="k" d="M573 174h2v1h1v1h1v2h-1v1h-1v1h-2v-1h-1v-1h-1v-2h1v-1h1z"/><path class="b" d="M573 175h2v1h1v2h-1v1h-2v-1h-1v-2h1z"/>
<path class="k" d="M575 169h2v1h1v1h1v2h-1v1h-1v1h-2v-1h-1v-1h-1v-2h1v-1h1z"/><path class="b" d="M575 170h2v1h1v2h-1v1h-2v-1h-1v-2h1z"/>
<path class="k" d="M575 179h2v1h1v1h1v2h-1v1h-1v1h-2v-1h-1v-1h-1v-2h1v-1h1z"/><path class="b" d="M575 180h2v1h1v2h-1v1h-2v-1h-1v-2h1z"/>
<path class="k" d="M576 168h2v1h1v1h1v2h-1v1h-1v1h-2v-1h-1v-1h-1v-2h1v-1h1z"/><path class="b" d="M576 169h2v1h1v2h-1v1h-2v-1h-1v-2h1z"/>
<path class="k" d="M577 189h2v1h1v1h1v2h-1v1h-1v1h-2v-1h-1v-1h-1v-2h1v-1h1z"/><path class="b" d="M577 190h2v1h1v2h-1v1h-2v-1h-1v-2h1z"/>
<path class="k" d="M578 179h2v1h1v1h1v2h-1v1h-1v1h-2v-1h-1v-1h-1v-2h1v-1h1z"/><path class="b" d="M578 180h2v1h1v2h-1v1h-2v-1h-1v-2h1z"/>
<path class="k" d="M580 186h2v1h1v1h1v2h-1v1h-1v1h-2v-1h-1v-1h-1v-2h1v-1h1z"/><path class="b" d="M580 187h2v1h1v2h-1v1h-2v-1h-1v-2h1z"/>
<path class="k" d="M581 170h2v1h1v1h1v2h-1v1h-1v1h-2v-1h-1v-1h-1v-2h1v-1h1z"/><path class="b" d="M581 171h2v1h1v2h-1v1h-2v-1h-1v-2h1z"/>
<path class="k" d="M583 166h2v1h1v1h1v2h-1v1h-1v1h-2v-1h-1v-1h-1v-2h1v-1h1z"/><path class="b" d="M583 167h2v1h1v2h-1v1h-2v-1h-1v-2h1z"/>
<path class="k" d="M584 171h2v1h1v1h1v2h-1v1h-1v1h-2v-1h-1v-1h-1v-2h1v-1h1z"/><path class="b" d="M584 172h2v1h1v2h-1v1h-2v-1h-1v-2h1z"/>
<path class="k" d="M586 160h2v1h1v1h1v2h-1v1h-1v1h-2v-1h-1v-1h-1v-2h1v-1h1z"/><path class="b" d="M586 161h2v1h1v2h-1v1h-2v-1h-1v-2h1z"/>
<path class="k" d="M586 157h2v1h1v1h1v2h-1v1h-1v1h-2v-1h-1v-1h-1v-2h1v-1h1z"/><path class="b" d="M586 158h2v1h1v2h-1v1h-2v-1h-1v-2h1z"/>
<path class="k" d="M587 158h2v1h1v1h1v2h-1v1h-1v1h-2v-1h-1v-1h-1v-2h1v-1h1z"/><path class="b" d="M587 159h2v1h1v2h-1v1h-2v-1h-1v-2h1z"/>
<path class="k" d="M588 175h2v1h1v1h1v2h-1v1h-1v1h-2v-1h-1v-1h-1v-2h1v-1h1z"/><path class="b" d="M588 176h2v1h1v2h-1v1h-2v-1h-1v-2h1z"/>
<path class="k" d="M590 177h2v1h1v1h1v2h-1v1h-1v1h-2v-1h-1v-1h-1v-2h1v-1h1z"/><path class="b" d="M590 178h2v1h1v2h-1v1h-2v-1h-1v-2h1z"/>
<path class="k" d="M591 171h2v1h1v1h1v2h-1v1h-1v1h-2v-1h-1v-1h-1v-2h1v-1h1z"/><path class="b" d="M591 172h2v1h1v2h-1v1h-2v-1h-1v-2h1z"/>
<path class="k" d="M591 181h2v1h1v1h1v2h-1v1h-1v1h-2v-1h-1v-1h-1v-2h1v-1h1z"/><path class="b" d="M591 182h2v1h1v2h-1v1h-2v-1h-1v-2h1z"/>
<path class="k" d="M593 190h2v1h1v1h1v2h-1v1h-1v1h-2v-1h-1v-1h-1v-2h1v-1h1z"/><path class="b" d="M593 191h2v1h1v2h-1v1h-2v-1h-1v-2h1z"/>
<path class="k" d="M595 198h2v1h1v1h1v2h-1v1h-1v1h-2v-1h-1v-1h-1v-2h1v-1h1z"/><path class="b" d="M595 199h2v1h1v2h-1v1h-2v-1h-1v-2h1z"/>
<path class="k" d="M597 187h2v1h1v1h1v2h-1v1h-1v1h-2v-1h-1v-1h-1v-2h1v-1h1z"/><path class="b" d="M597 188h2v1h1v2h-1v1h-2v-1h-1v-2h1z"/>
<path class="k" d="M598 183h2v1h1v1h1v2h-1v1h-1v1h-2v-1h-1v-1h-1v-2h1v-1h1z"/><path class="b" d="M598 184h2v1h1v2h-1v1h-2v-1h-1v-2h1z"/>
<path class="k" d="M599 203h2v1h1v1h1v2h-1v1h-1v1h-2v-1h-1v-1h-1v-2h1v-1h1z"/><path class="b" d="M599 204h2v1h1v2h-1v1h-2v-1h-1v-2h1z"/>
<path class="k" d="M600 209h2v1h1v1h1v2h-1v1h-1v1h-2v-1h-1v-1h-1v-2h1v-1h1z"/><path class="b" d="M600 210h2v1h1v2h-1v1h-2v-1h-1v-2h1z"/>
<path class="k" d="M601 190h2v1h1v1h1v2h-1v1h-1v1h-2v-1h-1v-1h-1v-2h1v-1h1z"/><path class="b" d="M601 191h2v1h1v2h-1v1h-2v-1h-1v-2h1z"/>
<path class="k" d="M605 228h2v1h1v1h1v2h-1v1h-1v1h-2v-1h-1v-1h-1v-2h1v-1h1z"/><path class="b" d="M605 229h2v1h1v2h-1v1h-2v-1h-1v-2h1z"/>
<path class="k" d="M606 239h2v1h1v1h1v2h-1v1h-1v1h-2v-1h-1v-1h-1v-2h1v-1h1z"/><path class="b" d="M606 240h2v1h1v2h-1v1h-2v-1h-1v-2h1z"/>
<path class="k" d="M710 361h2v1h1v1h1v2h-1v1h-1v1h-2v-1h-1v-1h-1v-2h1v-1h1z"/><path class="b" d="M710 362h2v1h1v2h-1v1h-2v-1h-1v-2h1z"/>
<path class="k" d="M711 344h2v1h1v1h1v2h-1v1h-1v1h-2v-1h-1v-1h-1v-2h1v-1h1z"/><path class="b" d="M711 345h2v1h1v2h-1v1h-2v-1h-1v-2h1z"/>
<path class="k" d="M712 343h2v1h1v1h1v2h-1v1h-1v1h-2v-1h-1v-1h-1v-2h1v-1h1z"/><path class="b" d="M712 344h2v1h1v2h-1v1h-2v-1h-1v-2h1z"/>
<path class="k" d="M713 331h2v1h1v1h1v2h-1v1h-1v1h-2v-1h-1v-1h-1v-2h1v-1h1z"/><path class="b" d="M713 332h2v1h1v2h-1v1h-2v-1h-1v-2h1z"/>
<path class="k" d="M714 347h2v1h1v1h1v2h-1v1h-1v1h-2v-1h-1v-1h-1v-2h1v-1h1z"/><path class="b" d="M714 348h2v1h1v2h-1v1h-2v-1h-1v-2h1z"/>
<path class="k" d="M715 329h2v1h1v1h1v2h-1v1h-1v1h-2v-1h-1v-1h-1v-2h1v-1h1z"/><path class="b" d="M715 330h2v1h1v2h-1v1h-2v-1h-1v-2h1z"/>
<path class="k" d="M717 334h2v1h1v1h1v2h-1v1h-1v1h-2v-1h-1v-1h-1v-2h1v-1h1z"/><path class="b" d="M717 335h2v1h1v2h-1v1h-2v-1h-1v-2h1z"/>
<path class="k" d="M718 321h2v1h1v1h1v2h-1v1h-1v1h-2v-1h-1v-1h-1v-2h1v-1h1z"/><path class="b" d="M718 322h2v1h1v2h-1v1h-2v-1h-1v-2h1z"/>
<path class="k" d="M719 319h2v1h1v1h1v2h-1v1h-1v1h-2v-1h-1v-1h-1v-2h1v-1h1z"/><path class="b" d="M719 320h2v1h1v2h-1v1h-2v-1h-1v-2h1z"/>
<path class="k" d="M719 324h2v1h1v1h1v2h-1v1h-1v1h-2v-1h-1v-1h-1v-2h1v-1h1z"/><path class="b" d="M719 325h2v1h1v2h-1v1h-2v-1h-1v-2h1z"/>
<path class="k" d="M722 313h2v1h1v1h1v2h-1v1h-1v1h-2v-1h-1v-1h-1v-2h1v-1h1z"/><path class="b" d="M722 314h2v1h1v2h-1v1h-2v-1h-1v-2h1z"/>
<path class="k" d="M723 318h2v1h1v1h1v2h-1v1h-1v1h-2v-1h-1v-1h-1v-2h1v-1h1z"/><path class="b" d="M723 319h2v1h1v2h-1v1h-2v-1h-1v-2h1z"/>
<path class="k" d="M723 323h2v1h1v1h1v2h-1v1h-1v1h-2v-1h-1v-1h-1v-2h1v-1h1z"/><path class="b" d="M723 324h2v1h1v2h-1v1h-2v-1h-1v-2h1z"/>
<path class="k" d="M726 308h2v1h1v1h1v2h-1v1h-1v1h-2v-1h-1v-1h-1v-2h1v-1h1z"/><path class="b" d="M726 309h2v1h1v2h-1v1h-2v-1h-1v-2h1z"/>
<path class="k" d="M727 321h2v1h1v1h1v2h-1v1h-1v1h-2v-1h-1v-1h-1v-2h1v-1h1z"/><path class="b" d="M727 322h2v1h1v2h-1v1h-2v-1h-1v-2h1z"/>
<path class="k" d="M727 309h2v1h1v1h1v2h-1v1h-1v1h-2v-1h-1v-1h-1v-2h1v-1h1z"/><path class="b" d="M727 310h2v1h1v2h-1v1h-2v-1h-1v-2h1z"/>
<path class="k" d="M730 298h2v1h1v1h1v2h-1v1h-1v1h-2v-1h-1v-1h-1v-2h1v-1h1z"/><path class="b" d="M730 299h2v1h1v2h-1v1h-2v-1h-1v-2h1z"/>
<path class="k" d="M730 313h2v1h1v1h1v2h-1v1h-1v1h-2v-1h-1v-1h-1v-2h1v-1h1z"/><path class="b" d="M730 314h2v1h1v2h-1v1h-2v-1h-1v-2h1z"/>
<path class="k" d="M732 266h2v1h1v1h1v2h-1v1h-1v1h-2v-1h-1v-1h-1v-2h1v-1h1z"/><path class="b" d="M732 267h2v1h1v2h-1v1h-2v-1h-1v-2h1z"/>
<path class="k" d="M733 275h2v1h1v1h1v2h-1v1h-1v1h-2v-1h-1v-1h-1v-2h1v-1h1z"/><path class="b" d="M733 276h2v1h1v2h-1v1h-2v-1h-1v-2h1z"/>
<path class="k" d="M734 269h2v1h1v1h1v2h-1v1h-1v1h-2v-1h-1v-1h-1v-2h1v-1h1z"/><path class="b" d="M734 270h2v1h1v2h-1v1h-2v-1h-1v-2h1z"/>
<path class="k" d="M735 292h2v1h1v1h1v2h-1v1h-1v1h-2v-1h-1v-1h-1v-2h1v-1h1z"/><path class="b" d="M735 293h2v1h1v2h-1v1h-2v-1h-1v-2h1z"/>
<path class="k" d="M738 285h2v1h1v1h1v2h-1v1h-1v1h-2v-1h-1v-1h-1v-2h1v-1h1z"/><path class="b" d="M738 286h2v1h1v2h-1v1h-2v-1h-1v-2h1z"/>
<path class="k" d="M739 298h2v1h1v1h1v2h-1v1h-1v1h-2v-1h-1v-1h-1v-2h1v-1h1z"/><path class="b" d="M739 299h2v1h1v2h-1v1h-2v-1h-1v-2h1z"/>
<path class="k" d="M740 285h2v1h1v1h1v2h-1v1h-1v1h-2v-1h-1v-1h-1v-2h1v-1h1z"/><path class="b" d="M740 286h2v1h1v2h-1v1h-2v-1h-1v-2h1z"/>
<path class="k" d="M743 297h2v1h1v1h1v2h-1v1h-1v1h-2v-1h-1v-1h-1v-2h1v-1h1z"/><path class="b" d="M743 298h2v1h1v2h-1v1h-2v-1h-1v-2h1z"/>
<path class="k" d="M744 301h2v1h1v1h1v2h-1v1h-1v1h-2v-1h-1v-1h-1v-2h1v-1h1z"/><path class="b" d="M744 302h2v1h1v2h-1v1h-2v-1h-1v-2h1z"/>
<path class="k" d="M750 274h2v1h1v1h1v2h-1v1h-1v1h-2v-1h-1v-1h-1v-2h1v-1h1z"/><path class="b" d="M750 275h2v1h1v2h-1v1h-2v-1h-1v-2h1z"/>
<path class="k" d="M753 245h2v1h1v1h1v2h-1v1h-1v1h-2v-1h-1v-1h-1v-2h1v-1h1z"/><path class="b" d="M753 246h2v1h1v2h-1v1h-2v-1h-1v-2h1z"/>
<path class="k" d="M753 277h2v1h1v1h1v2h-1v1h-1v1h-2v-1h-1v-1h-1v-2h1v-1h1z"/><path class="b" d="M753 278h2v1h1v2h-1v1h-2v-1h-1v-2h1z"/>
<path class="k" d="M754 227h2v1h1v1h1v2h-1v1h-1v1h-2v-1h-1v-1h-1v-2h1v-1h1z"/><path class="b" d="M754 228h2v1h1v2h-1v1h-2v-1h-1v-2h1z"/>
<path class="k" d="M755 212h2v1h1v1h1v2h-1v1h-1v1h-2v-1h-1v-1h-1v-2h1v-1h1z"/><path class="b" d="M755 213h2v1h1v2h-1v1h-2v-1h-1v-2h1z"/>
<path class="k" d="M758 224h2v1h1v1h1v2h-1v1h-1v1h-2v-1h-1v-1h-1v-2h1v-1h1z"/><path class="b" d="M758 225h2v1h1v2h-1v1h-2v-1h-1v-2h1z"/>
<path class="k" d="M763 229h2v1h1v1h1v2h-1v1h-1v1h-2v-1h-1v-1h-1v-2h1v-1h1z"/><path class="b" d="M763 230h2v1h1v2h-1v1h-2v-1h-1v-2h1z"/>
<path class="k" d="M763 236h2v1h1v1h1v2h-1v1h-1v1h-2v-1h-1v-1h-1v-2h1v-1h1z"/><path class="b" d="M763 237h2v1h1v2h-1v1h-2v-1h-1v-2h1z"/>
<path class="k" d="M765 232h2v1h1v1h1v2h-1v1h-1v1h-2v-1h-1v-1h-1v-2h1v-1h1z"/><path class="b" d="M765 233h2v1h1v2h-1v1h-2v-1h-1v-2h1z"/>
<path class="k" d="M765 236h2v1h1v1h1v2h-1v1h-1v1h-2v-1h-1v-1h-1v-2h1v-1h1z"/><path class="b" d="M765 237h2v1h1v2h-1v1h-2v-1h-1v-2h1z"/>
<path class="k" d="M766 249h2v1h1v1h1v2h-1v1h-1v1h-2v-1h-1v-1h-1v-2h1v-1h1z"/><path class="b" d="M766 250h2v1h1v2h-1v1h-2v-1h-1v-2h1z"/>
<path class="k" d="M767 242h2v1h1v1h1v2h-1v1h-1v1h-2v-1h-1v-1h-1v-2h1v-1h1z"/><path class="b" d="M767 243h2v1h1v2h-1v1h-2v-1h-1v-2h1z"/>
<path class="k" d="M768 248h2v1h1v1h1v2h-1v1h-1v1h-2v-1h-1v-1h-1v-2h1v-1h1z"/><path class="b" d="M768 249h2v1h1v2h-1v1h-2v-1h-1v-2h1z"/>
<path class="k" d="M769 256h2v1h1v1h1v2h-1v1h-1v1h-2v-1h-1v-1h-1v-2h1v-1h1z"/><path class="b" d="M769 257h2v1h1v2h-1v1h-2v-1h-1v-2h1z"/>
<path class="k" d="M769 261h2v1h1v1h1v2h-1v1h-1v1h-2v-1h-1v-1h-1v-2h1v-1h1z"/><path class="b" d="M769 262h2v1h1v2h-1v1h-2v-1h-1v-2h1z"/>
<path class="k" d="M770 265h2v1h1v1h1v2h-1v1h-1v1h-2v-1h-1v-1h-1v-2h1v-1h1z"/><path class="b" d="M770 266h2v1h1v2h-1v1h-2v-1h-1v-2h1z"/>
<path class="k" d="M868 272h2v1h1v1h1v2h-1v1h-1v1h-2v-1h-1v-1h-1v-2h1v-1h1z"/><path class="b" d="M868 273h2v1h1v2h-1v1h-2v-1h-1v-2h1z"/>
<path class="k" d="M869 253h2v1h1v1h1v2h-1v1h-1v1h-2v-1h-1v-1h-1v-2h1v-1h1z"/><path class="b" d="M869 254h2v1h1v2h-1v1h-2v-1h-1v-2h1z"/>
<path class="k" d="M869 254h2v1h1v1h1v2h-1v1h-1v1h-2v-1h-1v-1h-1v-2h1v-1h1z"/><path class="b" d="M869 255h2v1h1v2h-1v1h-2v-1h-1v-2h1z"/>
<path class="k" d="M871 247h2v1h1v1h1v2h-1v1h-1v1h-2v-1h-1v-1h-1v-2h1v-1h1z"/><path class="b" d="M871 248h2v1h1v2h-1v1h-2v-1h-1v-2h1z"/>
<path class="k" d="M873 237h2v1h1v1h1v2h-1v1h-1v1h-2v-1h-1v-1h-1v-2h1v-1h1z"/><path class="b" d="M873 238h2v1h1v2h-1v1h-2v-1h-1v-2h1z"/>
<path class="k" d="M873 223h2v1h1v1h1v2h-1v1h-1v1h-2v-1h-1v-1h-1v-2h1v-1h1z"/><path class="b" d="M873 224h2v1h1v2h-1v1h-2v-1h-1v-2h1z"/>
<path class="k" d="M874 221h2v1h1v1h1v2h-1v1h-1v1h-2v-1h-1v-1h-1v-2h1v-1h1z"/><path class="b" d="M874 222h2v1h1v2h-1v1h-2v-1h-1v-2h1z"/>
<path class="k" d="M875 224h2v1h1v1h1v2h-1v1h-1v1h-2v-1h-1v-1h-1v-2h1v-1h1z"/><path class="b" d="M875 225h2v1h1v2h-1v1h-2v-1h-1v-2h1z"/>
<path class="k" d="M875 219h2v1h1v1h1v2h-1v1h-1v1h-2v-1h-1v-1h-1v-2h1v-1h1z"/><path class="b" d="M875 220h2v1h1v2h-1v1h-2v-1h-1v-2h1z"/>
<path class="k" d="M876 210h2v1h1v1h1v2h-1v1h-1v1h-2v-1h-1v-1h-1v-2h1v-1h1z"/><path class="b" d="M876 211h2v1h1v2h-1v1h-2v-1h-1v-2h1z"/>
<path class="k" d="M878 223h2v1h1v1h1v2h-1v1h-1v1h-2v-1h-1v-1h-1v-2h1v-1h1z"/><path class="b" d="M878 224h2v1h1v2h-1v1h-2v-1h-1v-2h1z"/>
<path class="k" d="M879 217h2v1h1v1h1v2h-1v1h-1v1h-2v-1h-1v-1h-1v-2h1v-1h1z"/><path class="b" d="M879 218h2v1h1v2h-1v1h-2v-1h-1v-2h1z"/>
<path class="k" d="M880 207h2v1h1v1h1v2h-1v1h-1v1h-2v-1h-1v-1h-1v-2h1v-1h1z"/><path class="b" d="M880 208h2v1h1v2h-1v1h-2v-1h-1v-2h1z"/>
<path class="k" d="M882 188h2v1h1v1h1v2h-1v1h-1v1h-2v-1h-1v-1h-1v-2h1v-1h1z"/><path class="b" d="M882 189h2v1h1v2h-1v1h-2v-1h-1v-2h1z"/>
<path class="k" d="M883 201h2v1h1v1h1v2h-1v1h-1v1h-2v-1h-1v-1h-1v-2h1v-1h1z"/><path class="b" d="M883 202h2v1h1v2h-1v1h-2v-1h-1v-2h1z"/>
<path class="k" d="M883 177h2v1h1v1h1v2h-1v1h-1v1h-2v-1h-1v-1h-1v-2h1v-1h1z"/><path class="b" d="M883 178h2v1h1v2h-1v1h-2v-1h-1v-2h1z"/>
<path class="k" d="M884 163h2v1h1v1h1v2h-1v1h-1v1h-2v-1h-1v-1h-1v-2h1v-1h1z"/><path class="b" d="M884 164h2v1h1v2h-1v1h-2v-1h-1v-2h1z"/>
<path class="k" d="M885 179h2v1h1v1h1v2h-1v1h-1v1h-2v-1h-1v-1h-1v-2h1v-1h1z"/><path class="b" d="M885 180h2v1h1v2h-1v1h-2v-1h-1v-2h1z"/>
<path class="k" d="M888 165h2v1h1v1h1v2h-1v1h-1v1h-2v-1h-1v-1h-1v-2h1v-1h1z"/><path class="b" d="M888 166h2v1h1v2h-1v1h-2v-1h-1v-2h1z"/>
<path class="k" d="M889 161h2v1h1v1h1v2h-1v1h-1v1h-2v-1h-1v-1h-1v-2h1v-1h1z"/><path class="b" d="M889 162h2v1h1v2h-1v1h-2v-1h-1v-2h1z"/>
<path class="k" d="M890 147h2v1h1v1h1v2h-1v1h-1v1h-2v-1h-1v-1h-1v-2h1v-1h1z"/><path class="b" d="M890 148h2v1h1v2h-1v1h-2v-1h-1v-2h1z"/>
<path class="k" d="M891 152h2v1h1v1h1v2h-1v1h-1v1h-2v-1h-1v-1h-1v-2h1v-1h1z"/><path class="b" d="M891 153h2v1h1v2h-1v1h-2v-1h-1v-2h1z"/>
<path class="k" d="M892 138h2v1h1v1h1v2h-1v1h-1v1h-2v-1h-1v-1h-1v-2h1v-1h1z"/><path class="b" d="M892 139h2v1h1v2h-1v1h-2v-1h-1v-2h1z"/>
<path class="k" d="M892 144h2v1h1v1h1v2h-1v1h-1v1h-2v-1h-1v-1h-1v-2h1v-1h1z"/><path class="b" d="M892 145h2v1h1v2h-1v1h-2v-1h-1v-2h1z"/>
<path class="k" d="M894 140h2v1h1v1h1v2h-1v1h-1v1h-2v-1h-1v-1h-1v-2h1v-1h1z"/><path class="b" d="M894 141h2v1h1v2h-1v1h-2v-1h-1v-2h1z"/>
<path class="k" d="M895 121h2v1h1v1h1v2h-1v1h-1v1h-2v-1h-1v-1h-1v-2h1v-1h1z"/><path class="b" d="M895 122h2v1h1v2h-1v1h-2v-1h-1v-2h1z"/>
<path class="k" d="M895 133h2v1h1v1h1v2h-1v1h-1v1h-2v-1h-1v-1h-1v-2h1v-1h1z"/><path class="b" d="M895 134h2v1h1v2h-1v1h-2v-1h-1v-2h1z"/>
<path class="k" d="M895 136h2v1h1v1h1v2h-1v1h-1v1h-2v-1h-1v-1h-1v-2h1v-1h1z"/><path class="b" d="M895 137h2v1h1v2h-1v1h-2v-1h-1v-2h1z"/>
<path class="k" d="M897 121h2v1h1v1h1v2h-1v1h-1v1h-2v-1h-1v-1h-1v-2h1v-1h1z"/><path class="b" d="M897 122h2v1h1v2h-1v1h-2v-1h-1v-2h1z"/>
<path class="k" d="M899 135h2v1h1v1h1v2h-1v1h-1v1h-2v-1h-1v-1h-1v-2h1v-1h1z"/><path class="b" d="M899 136h2v1h1v2h-1v1h-2v-1h-1v-2h1z"/>
<path class="k" d="M899 128h2v1h1v1h1v2h-1v1h-1v1h-2v-1h-1v-1h-1v-2h1v-1h1z"/><path class="b" d="M899 129h2v1h1v2h-1v1h-2v-1h-1v-2h1z"/>
<path class="k" d="M900 137h2v1h1v1h1v2h-1v1h-1v1h-2v-1h-1v-1h-1v-2h1v-1h1z"/><path class="b" d="M900 138h2v1h1v2h-1v1h-2v-1h-1v-2h1z"/>
<path class="k" d="M902 124h2v1h1v1h1v2h-1v1h-1v1h-2v-1h-1v-1h-1v-2h1v-1h1z"/><path class="b" d="M902 125h2v1h1v2h-1v1h-2v-1h-1v-2h1z"/>
<path class="k" d="M902 135h2v1h1v1h1v2h-1v1h-1v1h-2v-1h-1v-1h-1v-2h1v-1h1z"/><path class="b" d="M902 136h2v1h1v2h-1v1h-2v-1h-1v-2h1z"/>
<path class="k" d="M904 118h2v1h1v1h1v2h-1v1h-1v1h-2v-1h-1v-1h-1v-2h1v-1h1z"/><path class="b" d="M904 119h2v1h1v2h-1v1h-2v-1h-1v-2h1z"/>
<path class="k" d="M906 123h2v1h1v1h1v2h-1v1h-1v1h-2v-1h-1v-1h-1v-2h1v-1h1z"/><path class="b" d="M906 124h2v1h1v2h-1v1h-2v-1h-1v-2h1z"/>
<path class="k" d="M906 113h2v1h1v1h1v2h-1v1h-1v1h-2v-1h-1v-1h-1v-2h1v-1h1z"/><path class="b" d="M906 114h2v1h1v2h-1v1h-2v-1h-1v-2h1z"/>
<path class="k" d="M907 118h2v1h1v1h1v2h-1v1h-1v1h-2v-1h-1v-1h-1v-2h1v-1h1z"/><path class="b" d="M907 119h2v1h1v2h-1v1h-2v-1h-1v-2h1z"/>
<path class="k" d="M909 102h2v1h1v1h1v2h-1v1h-1v1h-2v-1h-1v-1h-1v-2h1v-1h1z"/><path class="b" d="M909 103h2v1h1v2h-1v1h-2v-1h-1v-2h1z"/>
<path class="k" d="M909 112h2v1h1v1h1v2h-1v1h-1v1h-2v-1h-1v-1h-1v-2h1v-1h1z"/><path class="b" d="M909 113h2v1h1v2h-1v1h-2v-1h-1v-2h1z"/>
<path class="k" d="M910 97h2v1h1v1h1v2h-1v1h-1v1h-2v-1h-1v-1h-1v-2h1v-1h1z"/><path class="b" d="M910 98h2v1h1v2h-1v1h-2v-1h-1v-2h1z"/>
<path class="k" d="M911 87h2v1h1v1h1v2h-1v1h-1v1h-2v-1h-1v-1h-1v-2h1v-1h1z"/><path class="b" d="M911 88h2v1h1v2h-1v1h-2v-1h-1v-2h1z"/>
<path class="k" d="M911 94h2v1h1v1h1v2h-1v1h-1v1h-2v-1h-1v-1h-1v-2h1v-1h1z"/><path class="b" d="M911 95h2v1h1v2h-1v1h-2v-1h-1v-2h1z"/>
<path class="k" d="M913 99h2v1h1v1h1v2h-1v1h-1v1h-2v-1h-1v-1h-1v-2h1v-1h1z"/><path class="b" d="M913 100h2v1h1v2h-1v1h-2v-1h-1v-2h1z"/>
<path class="k" d="M915 87h2v1h1v1h1v2h-1v1h-1v1h-2v-1h-1v-1h-1v-2h1v-1h1z"/><path class="b" d="M915 88h2v1h1v2h-1v1h-2v-1h-1v-2h1z"/>
<path class="k" d="M915 93h2v1h1v1h1v2h-1v1h-1v1h-2v-1h-1v-1h-1v-2h1v-1h1z"/><path class="b" d="M915 94h2v1h1v2h-1v1h-2v-1h-1v-2h1z"/>
<path class="k" d="M916 89h2v1h1v1h1v2h-1v1h-1v1h-2v-1h-1v-1h-1v-2h1v-1h1z"/><path class="b" d="M916 90h2v1h1v2h-1v1h-2v-1h-1v-2h1z"/>
<path class="k" d="M917 102h2v1h1v1h1v2h-1v1h-1v1h-2v-1h-1v-1h-1v-2h1v-1h1z"/><path class="b" d="M917 103h2v1h1v2h-1v1h-2v-1h-1v-2h1z"/>
<path class="k" d="M918 109h2v1h1v1h1v2h-1v1h-1v1h-2v-1h-1v-1h-1v-2h1v-1h1z"/><path class="b" d="M918 110h2v1h1v2h-1v1h-2v-1h-1v-2h1z"/>
<path class="k" d="M921 109h2v1h1v1h1v2h-1v1h-1v1h-2v-1h-1v-1h-1v-2h1v-1h1z"/><path class="b" d="M921 110h2v1h1v2h-1v1h-2v-1h-1v-2h1z"/>
<path class="k" d="M922 113h2v1h1v1h1v2h-1v1h-1v1h-2v-1h-1v-1h-1v-2h1v-1h1z"/><path class="b" d="M922 114h2v1h1v2h-1v1h-2v-1h-1v-2h1z"/>
<path class="k" d="M922 116h2v1h1v1h1v2h-1v1h-1v1h-2v-1h-1v-1h-1v-2h1v-1h1z"/><path class="b" d="M922 117h2v1h1v2h-1v1h-2v-1h-1v-2h1z"/>
<path class="k" d="M924 97h2v1h1v1h1v2h-1v1h-1v1h-2v-1h-1v-1h-1v-2h1v-1h1z"/><path class="b" d="M924 98h2v1h1v2h-1v1h-2v-1h-1v-2h1z"/>
<path class="k" d="M925 102h2v1h1v1h1v2h-1v1h-1v1h-2v-1h-1v-1h-1v-2h1v-1h1z"/><path class="b" d="M925 103h2v1h1v2h-1v1h-2v-1h-1v-2h1z"/>
<path class="k" d="M926 93h2v1h1v1h1v2h-1v1h-1v1h-2v-1h-1v-1h-1v-2h1v-1h1z"/><path class="b" d="M926 94h2v1h1v2h-1v1h-2v-1h-1v-2h1z"/>
<path class="k" d="M927 112h2v1h1v1h1v2h-1v1h-1v1h-2v-1h-1v-1h-1v-2h1v-1h1z"/><path class="b" d="M927 113h2v1h1v2h-1v1h-2v-1h-1v-2h1z"/>
<path class="k" d="M928 118h2v1h1v1h1v2h-1v1h-1v1h-2v-1h-1v-1h-1v-2h1v-1h1z"/><path class="b" d="M928 119h2v1h1v2h-1v1h-2v-1h-1v-2h1z"/>
<path class="k" d="M929 132h2v1h1v1h1v2h-1v1h-1v1h-2v-1h-1v-1h-1v-2h1v-1h1z"/><path class="b" d="M929 133h2v1h1v2h-1v1h-2v-1h-1v-2h1z"/>
<path class="k" d="M930 138h2v1h1v1h1v2h-1v1h-1v1h-2v-1h-1v-1h-1v-2h1v-1h1z"/><path class="b" d="M930 139h2v1h1v2h-1v1h-2v-1h-1v-2h1z"/>
<path class="k" d="M931 141h2v1h1v1h1v2h-1v1h-1v1h-2v-1h-1v-1h-1v-2h1v-1h1z"/><path class="b" d="M931 142h2v1h1v2h-1v1h-2v-1h-1v-2h1z"/>
<path class="k" d="M932 154h2v1h1v1h1v2h-1v1h-1v1h-2v-1h-1v-1h-1v-2h1v-1h1z"/><path class="b" d="M932 155h2v1h1v2h-1v1h-2v-1h-1v-2h1z"/>
<path class="k" d="M932 145h2v1h1v1h1v2h-1v1h-1v1h-2v-1h-1v-1h-1v-2h1v-1h1z"/><path class="b" d="M932 146h2v1h1v2h-1v1h-2v-1h-1v-2h1z"/>
<path class="k" d="M933 159h2v1h1v1h1v2h-1v1h-1v1h-2v-1h-1v-1h-1v-2h1v-1h1z"/><path class="b" d="M933 160h2v1h1v2h-1v1h-2v-1h-1v-2h1z"/>
<path class="k" d="M1030 171h2v1h1v1h1v2h-1v1h-1v1h-2v-1h-1v-1h-1v-2h1v-1h1z"/><path class="b" d="M1030 172h2v1h1v2h-1v1h-2v-1h-1v-2h1z"/>
<path class="k" d="M1031 174h2v1h1v1h1v2h-1v1h-1v1h-2v-1h-1v-1h-1v-2h1v-1h1z"/><path class="b" d="M1031 175h2v1h1v2h-1v1h-2v-1h-1v-2h1z"/>
<path class="k" d="M1032 159h2v1h1v1h1v2h-1v1h-1v1h-2v-1h-1v-1h-1v-2h1v-1h1z"/><path class="b" d="M1032 160h2v1h1v2h-1v1h-2v-1h-1v-2h1z"/>
<path class="k" d="M1033 152h2v1h1v1h1v2h-1v1h-1v1h-2v-1h-1v-1h-1v-2h1v-1h1z"/><path class="b" d="M1033 153h2v1h1v2h-1v1h-2v-1h-1v-2h1z"/>
<path class="k" d="M1035 148h2v1h1v1h1v2h-1v1h-1v1h-2v-1h-1v-1h-1v-2h1v-1h1z"/><path class="b" d="M1035 149h2v1h1v2h-1v1h-2v-1h-1v-2h1z"/>
<path class="k" d="M1036 142h2v1h1v1h1v2h-1v1h-1v1h-2v-1h-1v-1h-1v-2h1v-1h1z"/><path class="b" d="M1036 143h2v1h1v2h-1v1h-2v-1h-1v-2h1z"/>
<path class="k" d="M1036 150h2v1h1v1h1v2h-1v1h-1v1h-2v-1h-1v-1h-1v-2h1v-1h1z"/><path class="b" d="M1036 151h2v1h1v2h-1v1h-2v-1h-1v-2h1z"/>
<path class="k" d="M1037 137h2v1h1v1h1v2h-1v1h-1v1h-2v-1h-1v-1h-1v-2h1v-1h1z"/><path class="b" d="M1037 138h2v1h1v2h-1v1h-2v-1h-1v-2h1z"/>
<path class="k" d="M1039 136h2v1h1v1h1v2h-1v1h-1v1h-2v-1h-1v-1h-1v-2h1v-1h1z"/><path class="b" d="M1039 137h2v1h1v2h-1v1h-2v-1h-1v-2h1z"/>
<path class="k" d="M1039 140h2v1h1v1h1v2h-1v1h-1v1h-2v-1h-1v-1h-1v-2h1v-1h1z"/><path class="b" d="M1039 141h2v1h1v2h-1v1h-2v-1h-1v-2h1z"/>
<path class="k" d="M1040 147h2v1h1v1h1v2h-1v1h-1v1h-2v-1h-1v-1h-1v-2h1v-1h1z"/><path class="b" d="M1040 148h2v1h1v2h-1v1h-2v-1h-1v-2h1z"/>
<path class="k" d="M1046 145h2v1h1v1h1v2h-1v1h-1v1h-2v-1h-1v-1h-1v-2h1v-1h1z"/><path class="b" d="M1046 146h2v1h1v2h-1v1h-2v-1h-1v-2h1z"/>
<path class="k" d="M1050 91h2v1h1v1h1v2h-1v1h-1v1h-2v-1h-1v-1h-1v-2h1v-1h1z"/><path class="b" d="M1050 92h2v1h1v2h-1v1h-2v-1h-1v-2h1z"/>
<path class="k" d="M1051 95h2v1h1v1h1v2h-1v1h-1v1h-2v-1h-1v-1h-1v-2h1v-1h1z"/><path class="b" d="M1051 96h2v1h1v2h-1v1h-2v-1h-1v-2h1z"/>
<path class="k" d="M1051 101h2v1h1v1h1v2h-1v1h-1v1h-2v-1h-1v-1h-1v-2h1v-1h1z"/><path class="b" d="M1051 102h2v1h1v2h-1v1h-2v-1h-1v-2h1z"/>
<path class="k" d="M1054 83h2v1h1v1h1v2h-1v1h-1v1h-2v-1h-1v-1h-1v-2h1v-1h1z"/><path class="b" d="M1054 84h2v1h1v2h-1v1h-2v-1h-1v-2h1z"/>
<path class="k" d="M1054 101h2v1h1v1h1v2h-1v1h-1v1h-2v-1h-1v-1h-1v-2h1v-1h1z"/><path class="b" d="M1054 102h2v1h1v2h-1v1h-2v-1h-1v-2h1z"/>
<path class="k" d="M1056 91h2v1h1v1h1v2h-1v1h-1v1h-2v-1h-1v-1h-1v-2h1v-1h1z"/><path class="b" d="M1056 92h2v1h1v2h-1v1h-2v-1h-1v-2h1z"/>
<path class="k" d="M1057 93h2v1h1v1h1v2h-1v1h-1v1h-2v-1h-1v-1h-1v-2h1v-1h1z"/><path class="b" d="M1057 94h2v1h1v2h-1v1h-2v-1h-1v-2h1z"/>
<path class="k" d="M1057 82h2v1h1v1h1v2h-1v1h-1v1h-2v-1h-1v-1h-1v-2h1v-1h1z"/><path class="b" d="M1057 83h2v1h1v2h-1v1h-2v-1h-1v-2h1z"/>
<path class="k" d="M1058 105h2v1h1v1h1v2h-1v1h-1v1h-2v-1h-1v-1h-1v-2h1v-1h1z"/><path class="b" d="M1058 106h2v1h1v2h-1v1h-2v-1h-1v-2h1z"/>
<path class="k" d="M1059 95h2v1h1v1h1v2h-1v1h-1v1h-2v-1h-1v-1h-1v-2h1v-1h1z"/><path class="b" d="M1059 96h2v1h1v2h-1v1h-2v-1h-1v-2h1z"/>
<path class="k" d="M1059 103h2v1h1v1h1v2h-1v1h-1v1h-2v-1h-1v-1h-1v-2h1v-1h1z"/><path class="b" d="M1059 104h2v1h1v2h-1v1h-2v-1h-1v-2h1z"/>
<path class="k" d="M1061 123h2v1h1v1h1v2h-1v1h-1v1h-2v-1h-1v-1h-1v-2h1v-1h1z"/><path class="b" d="M1061 124h2v1h1v2h-1v1h-2v-1h-1v-2h1z"/>
<path class="k" d="M1062 119h2v1h1v1h1v2h-1v1h-1v1h-2v-1h-1v-1h-1v-2h1v-1h1z"/><path class="b" d="M1062 120h2v1h1v2h-1v1h-2v-1h-1v-2h1z"/>
<path class="k" d="M1064 129h2v1h1v1h1v2h-1v1h-1v1h-2v-1h-1v-1h-1v-2h1v-1h1z"/><path class="b" d="M1064 130h2v1h1v2h-1v1h-2v-1h-1v-2h1z"/>
<path class="k" d="M1065 121h2v1h1v1h1v2h-1v1h-1v1h-2v-1h-1v-1h-1v-2h1v-1h1z"/><path class="b" d="M1065 122h2v1h1v2h-1v1h-2v-1h-1v-2h1z"/>
<path class="k" d="M1067 115h2v1h1v1h1v2h-1v1h-1v1h-2v-1h-1v-1h-1v-2h1v-1h1z"/><path class="b" d="M1067 116h2v1h1v2h-1v1h-2v-1h-1v-2h1z"/>
<path class="k" d="M1067 125h2v1h1v1h1v2h-1v1h-1v1h-2v-1h-1v-1h-1v-2h1v-1h1z"/><path class="b" d="M1067 126h2v1h1v2h-1v1h-2v-1h-1v-2h1z"/>
<path class="k" d="M1068 129h2v1h1v1h1v2h-1v1h-1v1h-2v-1h-1v-1h-1v-2h1v-1h1z"/><path class="b" d="M1068 130h2v1h1v2h-1v1h-2v-1h-1v-2h1z"/>
<path class="k" d="M1069 117h2v1h1v1h1v2h-1v1h-1v1h-2v-1h-1v-1h-1v-2h1v-1h1z"/><path class="b" d="M1069 118h2v1h1v2h-1v1h-2v-1h-1v-2h1z"/>
<path class="k" d="M1071 93h2v1h1v1h1v2h-1v1h-1v1h-2v-1h-1v-1h-1v-2h1v-1h1z"/><path class="b" d="M1071 94h2v1h1v2h-1v1h-2v-1h-1v-2h1z"/>
<path class="k" d="M1072 117h2v1h1v1h1v2h-1v1h-1v1h-2v-1h-1v-1h-1v-2h1v-1h1z"/><path class="b" d="M1072 118h2v1h1v2h-1v1h-2v-1h-1v-2h1z"/>
<path class="k" d="M1073 121h2v1h1v1h1v2h-1v1h-1v1h-2v-1h-1v-1h-1v-2h1v-1h1z"/><path class="b" d="M1073 122h2v1h1v2h-1v1h-2v-1h-1v-2h1z"/>
<path class="k" d="M1075 126h2v1h1v1h1v2h-1v1h-1v1h-2v-1h-1v-1h-1v-2h1v-1h1z"/><path class="b" d="M1075 127h2v1h1v2h-1v1h-2v-1h-1v-2h1z"/>
<path class="k" d="M1076 119h2v1h1v1h1v2h-1v1h-1v1h-2v-1h-1v-1h-1v-2h1v-1h1z"/><path class="b" d="M1076 120h2v1h1v2h-1v1h-2v-1h-1v-2h1z"/>
<path class="k" d="M1077 130h2v1h1v1h1v2h-1v1h-1v1h-2v-1h-1v-1h-1v-2h1v-1h1z"/><path class="b" d="M1077 131h2v1h1v2h-1v1h-2v-1h-1v-2h1z"/>
<path class="k" d="M1079 157h2v1h1v1h1v2h-1v1h-1v1h-2v-1h-1v-1h-1v-2h1v-1h1z"/><path class="b" d="M1079 158h2v1h1v2h-1v1h-2v-1h-1v-2h1z"/>
<path class="k" d="M1080 179h2v1h1v1h1v2h-1v1h-1v1h-2v-1h-1v-1h-1v-2h1v-1h1z"/><path class="b" d="M1080 180h2v1h1v2h-1v1h-2v-1h-1v-2h1z"/>
<path class="k" d="M1081 152h2v1h1v1h1v2h-1v1h-1v1h-2v-1h-1v-1h-1v-2h1v-1h1z"/><path class="b" d="M1081 153h2v1h1v2h-1v1h-2v-1h-1v-2h1z"/>
<path class="k" d="M1082 182h2v1h1v1h1v2h-1v1h-1v1h-2v-1h-1v-1h-1v-2h1v-1h1z"/><path class="b" d="M1082 183h2v1h1v2h-1v1h-2v-1h-1v-2h1z"/>
<path class="k" d="M1090 164h2v1h1v1h1v2h-1v1h-1v1h-2v-1h-1v-1h-1v-2h1v-1h1z"/><path class="b" d="M1090 165h2v1h1v2h-1v1h-2v-1h-1v-2h1z"/>
<path class="k" d="M1094 179h2v1h1v1h1v2h-1v1h-1v1h-2v-1h-1v-1h-1v-2h1v-1h1z"/><path class="b" d="M1094 180h2v1h1v2h-1v1h-2v-1h-1v-2h1z"/>
<path class="k" d="M1094 183h2v1h1v1h1v2h-1v1h-1v1h-2v-1h-1v-1h-1v-2h1v-1h1z"/><path class="b" d="M1094 184h2v1h1v2h-1v1h-2v-1h-1v-2h1z"/>
</g>
<g class="g">
<path class="k" d="M59 525h1v2h1v2h1v2h1v1h-7v-2h1v-2h1v-2h1z"/><path class="b" d="M59 527h1v2h1v2h-4v-1h1v-2h1z"/>
<path class="k" d="M61 506h1v2h1v2h1v2h1v1h-7v-2h1v-2h1v-2h1z"/><path class="b" d="M61 508h1v2h1v2h-4v-1h1v-2h1z"/>
<path class="k" d="M63 492h1v2h1v2h1v2h1v1h-7v-2h1v-2h1v-2h1z"/><path class="b" d="M63 494h1v2h1v2h-4v-1h1v-2h1z"/>
<path class="k" d="M65 483h1v2h1v2h1v2h1v1h-7v-2h1v-2h1v-2h1z"/><path class="b" d="M65 485h1v2h1v2h-4v-1h1v-2h1z"/>
<path class="k" d="M65 467h1v2h1v2h1v2h1v1h-7v-2h1v-2h1v-2h1z"/><path class="b" d="M65 469h1v2h1v2h-4v-1h1v-2h1z"/>
<path class="k" d="M66 480h1v2h1v2h1v2h1v1h-7v-2h1v-2h1v-2h1z"/><path class="b" d="M66 482h1v2h1v2h-4v-1h1v-2h1z"/>
<path class="k" d="M67 475h1v2h1v2h1v2h1v1h-7v-2h1v-2h1v-2h1z"/><path class="b" d="M67 477h1v2h1v2h-4v-1h1v-2h1z"/>
<path class="k" d="M69 460h1v2h1v2h1v2h1v1h-7v-2h1v-2h1v-2h1z"/><path class="b" d="M69 462h1v2h1v2h-4v-1h1v-2h1z"/>
<path class="k" d="M70 454h1v2h1v2h1v2h1v1h-7v-2h1v-2h1v-2h1z"/><path class="b" d="M70 456h1v2h1v2h-4v-1h1v-2h1z"/>
<path class="k" d="M72 467h1v2h1v2h1v2h1v1h-7v-2h1v-2h1v-2h1z"/><path class="b" d="M72 469h1v2h1v2h-4v-1h1v-2h1z"/>
<path class="k" d="M74 460h1v2h1v2h1v2h1v1h-7v-2h1v-2h1v-2h1z"/><path class="b" d="M74 462h1v2h1v2h-4v-1h1v-2h1z"/>
<path class="k" d="M74 442h1v2h1v2h1v2h1v1h-7v-2h1v-2h1v-2h1z"/><path class="b" d="M74 444h1v2h1v2h-4v-1h1v-2h1z"/>
<path class="k" d="M74 451h1v2h1v2h1v2h1v1h-7v-2h1v-2h1v-2h1z"/><path class="b" d="M74 453h1v2h1v2h-4v-1h1v-2h1z"/>
<path class="k" d="M75 462h1v2h1v2h1v2h1v1h-7v-2h1v-2h1v-2h1z"/><path class="b" d="M75 464h1v2h1v2h-4v-1h1v-2h1z"/>
<path class="k" d="M77 444h1v2h1v2h1v2h1v1h-7v-2h1v-2h1v-2h1z"/><path class="b" d="M77 446h1v2h1v2h-4v-1h1v-2h1z"/>
<path class="k" d="M79 446h1v2h1v2h1v2h1v1h-7v-2h1v-2h1v-2h1z"/><path class="b" d="M79 448h1v2h1v2h-4v-1h1v-2h1z"/>
<path class="k" d="M80 450h1v2h1v2h1v2h1v1h-7v-2h1v-2h1v-2h1z"/><path class="b" d="M80 452h1v2h1v2h-4v-1h1v-2h1z"/>
<path class="k" d="M82 430h1v2h1v2h1v2h1v1h-7v-2h1v-2h1v-2h1z"/><path class="b" d="M82 432h1v2h1v2h-4v-1h1v-2h1z"/>
<path class="k" d="M82 434h1v2h1v2h1v2h1v1h-7v-2h1v-2h1v-2h1z"/><path class="b" d="M82 436h1v2h1v2h-4v-1h1v-2h1z"/>
<path class="k" d="M84 440h1v2h1v2h1v2h1v1h-7v-2h1v-2h1v-2h1z"/><path class="b" d="M84 442h1v2h1v2h-4v-1h1v-2h1z"/>
<path class="k" d="M85 451h1v2h1v2h1v2h1v1h-7v-2h1v-2h1v-2h1z"/><path class="b" d="M85 453h1v2h1v2h-4v-1h1v-2h1z"/>
<path class="k" d="M86 438h1v2h1v2h1v2h1v1h-7v-2h1v-2h1v-2h1z"/><path class="b" d="M86 440h1v2h1v2h-4v-1h1v-2h1z"/>
<path class="k" d="M88 430h1v2h1v2h1v2h1v1h-7v-2h1v-2h1v-2h1z"/><path class="b" d="M88 432h1v2h1v2h-4v-1h1v-2h1z"/>
<path class="k" d="M89 438h1v2h1v2h1v2h1v1h-7v-2h1v-2h1v-2h1z"/><path class="b" d="M89 440h1v2h1v2h-4v-1h1v-2h1z"/>
<path class="k" d="M91 423h1v2h1v2h1v2h1v1h-7v-2h1v-2h1v-2h1z"/><path class="b" d="M91 425h1v2h1v2h-4v-1h1v-2h1z"/>
<path class="k" d="M92 444h1v2h1v2h1v2h1v1h-7v-2h1v-2h1v-2h1z"/><path class="b" d="M92 446h1v2h1v2h-4v-1h1v-2h1z"/>
<path class="k" d="M94 424h1v2h1v2h1v2h1v1h-7v-2h1v-2h1v-2h1z"/><path class="b" d="M94 426h1v2h1v2h-4v-1h1v-2h1z"/>
<path class="k" d="M95 416h1v2h1v2h1v2h1v1h-7v-2h1v-2h1v-2h1z"/><path class="b" d="M95 418h1v2h1v2h-4v-1h1v-2h1z"/>
<path class="k" d="M99 442h1v2h1v2h1v2h1v1h-7v-2h1v-2h1v-2h1z"/><path class="b" d="M99 444h1v2h1v2h-4v-1h1v-2h1z"/>
<path class="k" d="M101 424h1v2h1v2h1v2h1v1h-7v-2h1v-2h1v-2h1z"/><path class="b" d="M101 426h1v2h1v2h-4v-1h1v-2h1z"/>
<path class="k" d="M101 437h1v2h1v2h1v2h1v1h-7v-2h1v-2h1v-2h1z"/><path class="b" d="M101 439h1v2h1v2h-4v-1h1v-2h1z"/>
<path class="k" d="M104 478h1v2h1v2h1v2h1v1h-7v-2h1v-2h1v-2h1z"/><path class="b" d="M104 480h1v2h1v2h-4v-1h1v-2h1z"/>
<path class="k" d="M105 460h1v2h1v2h1v2h1v1h-7v-2h1v-2h1v-2h1z"/><path class="b" d="M105 462h1v2h1v2h-4v-1h1v-2h1z"/>
<path class="k" d="M105 475h1v2h1v2h1v2h1v1h-7v-2h1v-2h1v-2h1z"/><path class="b" d="M105 477h1v2h1v2h-4v-1h1v-2h1z"/>
<path class="k" d="M107 472h1v2h1v2h1v2h1v1h-7v-2h1v-2h1v-2h1z"/><path class="b" d="M107 474h1v2h1v2h-4v-1h1v-2h1z"/>
<path class="k" d="M109 475h1v2h1v2h1v2h1v1h-7v-2h1v-2h1v-2h1z"/><path class="b" d="M109 477h1v2h1v2h-4v-1h1v-2h1z"/>
<path class="k" d="M111 482h1v2h1v2h1v2h1v1h-7v-2h1v-2h1v-2h1z"/><path class="b" d="M111 484h1v2h1v2h-4v-1h1v-2h1z"/>
<path class="k" d="M111 487h1v2h1v2h1v2h1v1h-7v-2h1v-2h1v-2h1z"/><path class="b" d="M111 489h1v2h1v2h-4v-1h1v-2h1z"/>
<path class="k" d="M113 491h1v2h1v2h1v2h1v1h-7v-2h1v-2h1v-2h1z"/><path class="b" d="M113 493h1v2h1v2h-4v-1h1v-2h1z"/>
<path class="k" d="M114 499h1v2h1v2h1v2h1v1h-7v-2h1v-2h1v-2h1z"/><path class="b" d="M114 501h1v2h1v2h-4v-1h1v-2h1z"/>
<path class="k" d="M115 489h1v2h1v2h1v2h1v1h-7v-2h1v-2h1v-2h1z"/><path class="b" d="M115 491h1v2h1v2h-4v-1h1v-2h1z"/>
<path class="k" d="M117 493h1v2h1v2h1v2h1v1h-7v-2h1v-2h1v-2h1z"/><path class="b" d="M117 495h1v2h1v2h-4v-1h1v-2h1z"/>
<path class="k" d="M118 487h1v2h1v2h1v2h1v1h-7v-2h1v-2h1v-2h1z"/><path class="b" d="M118 489h1v2h1v2h-4v-1h1v-2h1z"/>
<path class="k" d="M119 496h1v2h1v2h1v2h1v1h-7v-2h1v-2h1v-2h1z"/><path class="b" d="M119 498h1v2h1v2h-4v-1h1v-2h1z"/>
<path class="k" d="M120 514h1v2h1v2h1v2h1v1h-7v-2h1v-2h1v-2h1z"/><path class="b" d="M120 516h1v2h1v2h-4v-1h1v-2h1z"/>
<path class="k" d="M120 511h1v2h1v2h1v2h1v1h-7v-2h1v-2h1v-2h1z"/><path class="b" d="M120 513h1v2h1v2h-4v-1h1v-2h1z"/>
<path class="k" d="M121 518h1v2h1v2h1v2h1v1h-7v-2h1v-2h1v-2h1z"/><path class="b" d="M121 520h1v2h1v2h-4v-1h1v-2h1z"/>
<path class="k" d="M122 547h1v2h1v2h1v2h1v1h-7v-2h1v-2h1v-2h1z"/><path class="b" d="M122 549h1v2h1v2h-4v-1h1v-2h1z"/>
<path class="k" d="M220 527h1v2h1v2h1v2h1v1h-7v-2h1v-2h1v-2h1z"/><path class="b" d="M220 529h1v2h1v2h-4v-1h1v-2h1z"/>
<path class="k" d="M221 517h1v2h1v2h1v2h1v1h-7v-2h1v-2h1v-2h1z"/><path class="b" d="M221 519h1v2h1v2h-4v-1h1v-2h1z"/>
<path class="k" d="M222 514h1v2h1v2h1v2h1v1h-7v-2h1v-2h1v-2h1z"/><path class="b" d="M222 516h1v2h1v2h-4v-1h1v-2h1z"/>
<path class="k" d="M223 492h1v2h1v2h1v2h1v1h-7v-2h1v-2h1v-2h1z"/><path class="b" d="M223 494h1v2h1v2h-4v-1h1v-2h1z"/>
<path class="k" d="M226 485h1v2h1v2h1v2h1v1h-7v-2h1v-2h1v-2h1z"/><path class="b" d="M226 487h1v2h1v2h-4v-1h1v-2h1z"/>
<path class="k" d="M226 493h1v2h1v2h1v2h1v1h-7v-2h1v-2h1v-2h1z"/><path class="b" d="M226 495h1v2h1v2h-4v-1h1v-2h1z"/>
<path class="k" d="M228 483h1v2h1v2h1v2h1v1h-7v-2h1v-2h1v-2h1z"/><path class="b" d="M228 485h1v2h1v2h-4v-1h1v-2h1z"/>
<path class="k" d="M229 470h1v2h1v2h1v2h1v1h-7v-2h1v-2h1v-2h1z"/><path class="b" d="M229 472h1v2h1v2h-4v-1h1v-2h1z"/>
<path class="k" d="M231 464h1v2h1v2h1v2h1v1h-7v-2h1v-2h1v-2h1z"/><path class="b" d="M231 466h1v2h1v2h-4v-1h1v-2h1z"/>
<path class="k" d="M231 478h1v2h1v2h1v2h1v1h-7v-2h1v-2h1v-2h1z"/><path class="b" d="M231 480h1v2h1v2h-4v-1h1v-2h1z"/>
<path class="k" d="M234 455h1v2h1v2h1v2h1v1h-7v-2h1v-2h1v-2h1z"/><path class="b" d="M234 457h1v2h1v2h-4v-1h1v-2h1z"/>
<path class="k" d="M236 464h1v2h1v2h1v2h1v1h-7v-2h1v-2h1v-2h1z"/><path class="b" d="M236 466h1v2h1v2h-4v-1h1v-2h1z"/>
<path class="k" d="M237 447h1v2h1v2h1v2h1v1h-7v-2h1v-2h1v-2h1z"/><path class="b" d="M237 449h1v2h1v2h-4v-1h1v-2h1z"/>
<path class="k" d="M237 452h1v2h1v2h1v2h1v1h-7v-2h1v-2h1v-2h1z"/><path class="b" d="M237 454h1v2h1v2h-4v-1h1v-2h1z"/>
<path class="k" d="M237 457h1v2h1v2h1v2h1v1h-7v-2h1v-2h1v-2h1z"/><path class="b" d="M237 459h1v2h1v2h-4v-1h1v-2h1z"/>
<path class="k" d="M240 441h1v2h1v2h1v2h1v1h-7v-2h1v-2h1v-2h1z"/><path class="b" d="M240 443h1v2h1v2h-4v-1h1v-2h1z"/>
<path class="k" d="M241 438h1v2h1v2h1v2h1v1h-7v-2h1v-2h1v-2h1z"/><path class="b" d="M241 440h1v2h1v2h-4v-1h1v-2h1z"/>
<path class="k" d="M242 451h1v2h1v2h1v2h1v1h-7v-2h1v-2h1v-2h1z"/><path class="b" d="M242 453h1v2h1v2h-4v-1h1v-2h1z"/>
<path class="k" d="M244 465h1v2h1v2h1v2h1v1h-7v-2h1v-2h1v-2h1z"/><path class="b" d="M244 467h1v2h1v2h-4v-1h1v-2h1z"/>
<path class="k" d="M245 440h1v2h1v2h1v2h1v1h-7v-2h1v-2h1v-2h1z"/><path class="b" d="M245 442h1v2h1v2h-4v-1h1v-2h1z"/>
<path class="k" d="M245 447h1v2h1v2h1v2h1v1h-7v-2h1v-2h1v-2h1z"/><path class="b" d="M245 449h1v2h1v2h-4v-1h1v-2h1z"/>
<path class="k" d="M247 418h1v2h1v2h1v2h1v1h-7v-2h1v-2h1v-2h1z"/><path class="b" d="M247 420h1v2h1v2h-4v-1h1v-2h1z"/>
<path class="k" d="M248 440h1v2h1v2h1v2h1v1h-7v-2h1v-2h1v-2h1z"/><path class="b" d="M248 442h1v2h1v2h-4v-1h1v-2h1z"/>
<path class="k" d="M249 455h1v2h1v2h1v2h1v1h-7v-2h1v-2h1v-2h1z"/><path class="b" d="M249 457h1v2h1v2h-4v-1h1v-2h1z"/>
<path class="k" d="M250 434h1v2h1v2h1v2h1v1h-7v-2h1v-2h1v-2h1z"/><path class="b" d="M250 436h1v2h1v2h-4v-1h1v-2h1z"/>
<path class="k" d="M250 438h1v2h1v2h1v2h1v1h-7v-2h1v-2h1v-2h1z"/><path class="b" d="M250 440h1v2h1v2h-4v-1h1v-2h1z"/>
<path class="k" d="M252 421h1v2h1v2h1v2h1v1h-7v-2h1v-2h1v-2h1z"/><path class="b" d="M252 423h1v2h1v2h-4v-1h1v-2h1z"/>
<path class="k" d="M255 432h1v2h1v2h1v2h1v1h-7v-2h1v-2h1v-2h1z"/><path class="b" d="M255 434h1v2h1v2h-4v-1h1v-2h1z"/>
<path class="k" d="M256 436h1v2h1v2h1v2h1v1h-7v-2h1v-2h1v-2h1z"/><path class="b" d="M256 438h1v2h1v2h-4v-1h1v-2h1z"/>
<path class="k" d="M257 471h1v2h1v2h1v2h1v1h-7v-2h1v-2h1v-2h1z"/><path class="b" d="M257 473h1v2h1v2h-4v-1h1v-2h1z"/>
<path class="k" d="M258 423h1v2h1v2h1v2h1v1h-7v-2h1v-2h1v-2h1z"/><path class="b" d="M258 425h1v2h1v2h-4v-1h1v-2h1z"/>
<path class="k" d="M262 421h1v2h1v2h1v2h1v1h-7v-2h1v-2h1v-2h1z"/><path class="b" d="M262 423h1v2h1v2h-4v-1h1v-2h1z"/>
<path class="k" d="M264 429h1v2h1v2h1v2h1v1h-7v-2h1v-2h1v-2h1z"/><path class="b" d="M264 431h1v2h1v2h-4v-1h1v-2h1z"/>
<path class="k" d="M265 462h1v2h1v2h1v2h1v1h-7v-2h1v-2h1v-2h1z"/><path class="b" d="M265 464h1v2h1v2h-4v-1h1v-2h1z"/>
<path class="k" d="M266 460h1v2h1v2h1v2h1v1h-7v-2h1v-2h1v-2h1z"/><path class="b" d="M266 462h1v2h1v2h-4v-1h1v-2h1z"/>
<path class="k" d="M268 466h1v2h1v2h1v2h1v1h-7v-2h1v-2h1v-2h1z"/><path class="b" d="M268 468h1v2h1v2h-4v-1h1v-2h1z"/>
<path class="k" d="M269 475h1v2h1v2h1v2h1v1h-7v-2h1v-2h1v-2h1z"/><path class="b" d="M269 477h1v2h1v2h-4v-1h1v-2h1z"/>
<path class="k" d="M270 467h1v2h1v2h1v2h1v1h-7v-2h1v-2h1v-2h1z"/><path class="b" d="M270 469h1v2h1v2h-4v-1h1v-2h1z"/>
<path class="k" d="M271 451h1v2h1v2h1v2h1v1h-7v-2h1v-2h1v-2h1z"/><path class="b" d="M271 453h1v2h1v2h-4v-1h1v-2h1z"/>
<path class="k" d="M272 471h1v2h1v2h1v2h1v1h-7v-2h1v-2h1v-2h1z"/><path class="b" d="M272 473h1v2h1v2h-4v-1h1v-2h1z"/>
<path class="k" d="M273 458h1v2h1v2h1v2h1v1h-7v-2h1v-2h1v-2h1z"/><path class="b" d="M273 460h1v2h1v2h-4v-1h1v-2h1z"/>
<path class="k" d="M274 477h1v2h1v2h1v2h1v1h-7v-2h1v-2h1v-2h1z"/><path class="b" d="M274 479h1v2h1v2h-4v-1h1v-2h1z"/>
<path class="k" d="M275 480h1v2h1v2h1v2h1v1h-7v-2h1v-2h1v-2h1z"/><path class="b" d="M275 482h1v2h1v2h-4v-1h1v-2h1z"/>
<path class="k" d="M276 483h1v2h1v2h1v2h1v1h-7v-2h1v-2h1v-2h1z"/><path class="b" d="M276 485h1v2h1v2h-4v-1h1v-2h1z"/>
<path class="k" d="M279 480h1v2h1v2h1v2h1v1h-7v-2h1v-2h1v-2h1z"/><path class="b" d="M279 482h1v2h1v2h-4v-1h1v-2h1z"/>
<path class="k" d="M279 488h1v2h1v2h1v2h1v1h-7v-2h1v-2h1v-2h1z"/><path class="b" d="M279 490h1v2h1v2h-4v-1h1v-2h1z"/>
<path class="k" d="M281 511h1v2h1v2h1v2h1v1h-7v-2h1v-2h1v-2h1z"/><path class="b" d="M281 513h1v2h1v2h-4v-1h1v-2h1z"/>
<path class="k" d="M282 502h1v2h1v2h1v2h1v1h-7v-2h1v-2h1v-2h1z"/><path class="b" d="M282 504h1v2h1v2h-4v-1h1v-2h1z"/>
<path class="k" d="M283 525h1v2h1v2h1v2h1v1h-7v-2h1v-2h1v-2h1z"/><path class="b" d="M283 527h1v2h1v2h-4v-1h1v-2h1z"/>
<path class="k" d="M284 536h1v2h1v2h1v2h1v1h-7v-2h1v-2h1v-2h1z"/><path class="b" d="M284 538h1v2h1v2h-4v-1h1v-2h1z"/>
<path class="k" d="M545 535h1v2h1v2h1v2h1v1h-7v-2h1v-2h1v-2h1z"/><path class="b" d="M545 537h1v2h1v2h-4v-1h1v-2h1z"/>
<path class="k" d="M546 510h1v2h1v2h1v2h1v1h-7v-2h1v-2h1v-2h1z"/><path class="b" d="M546 512h1v2h1v2h-4v-1h1v-2h1z"/>
<path class="k" d="M546 512h1v2h1v2h1v2h1v1h-7v-2h1v-2h1v-2h1z"/><path class="b" d="M546 514h1v2h1v2h-4v-1h1v-2h1z"/>
<path class="k" d="M549 502h1v2h1v2h1v2h1v1h-7v-2h1v-2h1v-2h1z"/><path class="b" d="M549 504h1v2h1v2h-4v-1h1v-2h1z"/>
<path class="k" d="M550 488h1v2h1v2h1v2h1v1h-7v-2h1v-2h1v-2h1z"/><path class="b" d="M550 490h1v2h1v2h-4v-1h1v-2h1z"/>
<path class="k" d="M551 493h1v2h1v2h1v2h1v1h-7v-2h1v-2h1v-2h1z"/><path class="b" d="M551 495h1v2h1v2h-4v-1h1v-2h1z"/>
<path class="k" d="M552 480h1v2h1v2h1v2h1v1h-7v-2h1v-2h1v-2h1z"/><path class="b" d="M552 482h1v2h1v2h-4v-1h1v-2h1z"/>
<path class="k" d="M553 470h1v2h1v2h1v2h1v1h-7v-2h1v-2h1v-2h1z"/><path class="b" d="M553 472h1v2h1v2h-4v-1h1v-2h1z"/>
<path class="k" d="M554 461h1v2h1v2h1v2h1v1h-7v-2h1v-2h1v-2h1z"/><path class="b" d="M554 463h1v2h1v2h-4v-1h1v-2h1z"/>
<path class="k" d="M557 459h1v2h1v2h1v2h1v1h-7v-2h1v-2h1v-2h1z"/><path class="b" d="M557 461h1v2h1v2h-4v-1h1v-2h1z"/>
<path class="k" d="M558 478h1v2h1v2h1v2h1v1h-7v-2h1v-2h1v-2h1z"/><path class="b" d="M558 480h1v2h1v2h-4v-1h1v-2h1z"/>
<path class="k" d="M560 453h1v2h1v2h1v2h1v1h-7v-2h1v-2h1v-2h1z"/><path class="b" d="M560 455h1v2h1v2h-4v-1h1v-2h1z"/>
<path class="k" d="M561 463h1v2h1v2h1v2h1v1h-7v-2h1v-2h1v-2h1z"/><path class="b" d="M561 465h1v2h1v2h-4v-1h1v-2h1z"/>
<path class="k" d="M561 468h1v2h1v2h1v2h1v1h-7v-2h1v-2h1v-2h1z"/><path class="b" d="M561 470h1v2h1v2h-4v-1h1v-2h1z"/>
<path class="k" d="M565 451h1v2h1v2h1v2h1v1h-7v-2h1v-2h1v-2h1z"/><path class="b" d="M565 453h1v2h1v2h-4v-1h1v-2h1z"/>
<path class="k" d="M565 464h1v2h1v2h1v2h1v1h-7v-2h1v-2h1v-2h1z"/><path class="b" d="M565 466h1v2h1v2h-4v-1h1v-2h1z"/>
<path class="k" d="M566 447h1v2h1v2h1v2h1v1h-7v-2h1v-2h1v-2h1z"/><path class="b" d="M566 449h1v2h1v2h-4v-1h1v-2h1z"/>
<path class="k" d="M568 456h1v2h1v2h1v2h1v1h-7v-2h1v-2h1v-2h1z"/><path class="b" d="M568 458h1v2h1v2h-4v-1h1v-2h1z"/>
<path class="k" d="M569 448h1v2h1v2h1v2h1v1h-7v-2h1v-2h1v-2h1z"/><path class="b" d="M569 450h1v2h1v2h-4v-1h1v-2h1z"/>
<path class="k" d="M569 450h1v2h1v2h1v2h1v1h-7v-2h1v-2h1v-2h1z"/><path class="b" d="M569 452h1v2h1v2h-4v-1h1v-2h1z"/>
<path class="k" d="M571 458h1v2h1v2h1v2h1v1h-7v-2h1v-2h1v-2h1z"/><path class="b" d="M571 460h1v2h1v2h-4v-1h1v-2h1z"/>
<path class="k" d="M572 446h1v2h1v2h1v2h1v1h-7v-2h1v-2h1v-2h1z"/><path class="b" d="M572 448h1v2h1v2h-4v-1h1v-2h1z"/>
<path class="k" d="M573 440h1v2h1v2h1v2h1v1h-7v-2h1v-2h1v-2h1z"/><path class="b" d="M573 442h1v2h1v2h-4v-1h1v-2h1z"/>
<path class="k" d="M574 444h1v2h1v2h1v2h1v1h-7v-2h1v-2h1v-2h1z"/><path class="b" d="M574 446h1v2h1v2h-4v-1h1v-2h1z"/>
<path class="k" d="M576 447h1v2h1v2h1v2h1v1h-7v-2h1v-2h1v-2h1z"/><path class="b" d="M576 449h1v2h1v2h-4v-1h1v-2h1z"/>
<path class="k" d="M577 452h1v2h1v2h1v2h1v1h-7v-2h1v-2h1v-2h1z"/><path class="b" d="M577 454h1v2h1v2h-4v-1h1v-2h1z"/>
<path class="k" d="M578 435h1v2h1v2h1v2h1v1h-7v-2h1v-2h1v-2h1z"/><path class="b" d="M578 437h1v2h1v2h-4v-1h1v-2h1z"/>
<path class="k" d="M579 438h1v2h1v2h1v2h1v1h-7v-2h1v-2h1v-2h1z"/><path class="b" d="M579 440h1v2h1v2h-4v-1h1v-2h1z"/>
<path class="k" d="M581 426h1v2h1v2h1v2h1v1h-7v-2h1v-2h1v-2h1z"/><path class="b" d="M581 428h1v2h1v2h-4v-1h1v-2h1z"/>
<path class="k" d="M582 444h1v2h1v2h1v2h1v1h-7v-2h1v-2h1v-2h1z"/><path class="b" d="M582 446h1v2h1v2h-4v-1h1v-2h1z"/>
<path class="k" d="M584 447h1v2h1v2h1v2h1v1h-7v-2h1v-2h1v-2h1z"/><path class="b" d="M584 449h1v2h1v2h-4v-1h1v-2h1z"/>
<path class="k" d="M585 440h1v2h1v2h1v2h1v1h-7v-2h1v-2h1v-2h1z"/><path class="b" d="M585 442h1v2h1v2h-4v-1h1v-2h1z"/>
<path class="k" d="M588 453h1v2h1v2h1v2h1v1h-7v-2h1v-2h1v-2h1z"/><path class="b" d="M588 455h1v2h1v2h-4v-1h1v-2h1z"/>
<path class="k" d="M589 439h1v2h1v2h1v2h1v1h-7v-2h1v-2h1v-2h1z"/><path class="b" d="M589 441h1v2h1v2h-4v-1h1v-2h1z"/>
<path class="k" d="M590 474h1v2h1v2h1v2h1v1h-7v-2h1v-2h1v-2h1z"/><path class="b" d="M590 476h1v2h1v2h-4v-1h1v-2h1z"/>
<path class="k" d="M592 479h1v2h1v2h1v2h1v1h-7v-2h1v-2h1v-2h1z"/><path class="b" d="M592 481h1v2h1v2h-4v-1h1v-2h1z"/>
<path class="k" d="M593 470h1v2h1v2h1v2h1v1h-7v-2h1v-2h1v-2h1z"/><path class="b" d="M593 472h1v2h1v2h-4v-1h1v-2h1z"/>
<path class="k" d="M594 472h1v2h1v2h1v2h1v1h-7v-2h1v-2h1v-2h1z"/><path class="b" d="M594 474h1v2h1v2h-4v-1h1v-2h1z"/>
<path class="k" d="M596 481h1v2h1v2h1v2h1v1h-7v-2h1v-2h1v-2h1z"/><path class="b" d="M596 483h1v2h1v2h-4v-1h1v-2h1z"/>
<path class="k" d="M599 487h1v2h1v2h1v2h1v1h-7v-2h1v-2h1v-2h1z"/><path class="b" d="M599 489h1v2h1v2h-4v-1h1v-2h1z"/>
<path class="k" d="M600 477h1v2h1v2h1v2h1v1h-7v-2h1v-2h1v-2h1z"/><path class="b" d="M600 479h1v2h1v2h-4v-1h1v-2h1z"/>
<path class="k" d="M601 482h1v2h1v2h1v2h1v1h-7v-2h1v-2h1v-2h1z"/><path class="b" d="M601 484h1v2h1v2h-4v-1h1v-2h1z"/>
<path class="k" d="M602 506h1v2h1v2h1v2h1v1h-7v-2h1v-2h1v-2h1z"/><path class="b" d="M602 508h1v2h1v2h-4v-1h1v-2h1z"/>
<path class="k" d="M606 504h1v2h1v2h1v2h1v1h-7v-2h1v-2h1v-2h1z"/><path class="b" d="M606 506h1v2h1v2h-4v-1h1v-2h1z"/>
<path class="k" d="M607 508h1v2h1v2h1v2h1v1h-7v-2h1v-2h1v-2h1z"/><path class="b" d="M607 510h1v2h1v2h-4v-1h1v-2h1z"/>
<path class="k" d="M711 490h1v2h1v2h1v2h1v1h-7v-2h1v-2h1v-2h1z"/><path class="b" d="M711 492h1v2h1v2h-4v-1h1v-2h1z"/>
<path class="k" d="M712 495h1v2h1v2h1v2h1v1h-7v-2h1v-2h1v-2h1z"/><path class="b" d="M712 497h1v2h1v2h-4v-1h1v-2h1z"/>
<path class="k" d="M714 493h1v2h1v2h1v2h1v1h-7v-2h1v-2h1v-2h1z"/><path class="b" d="M714 495h1v2h1v2h-4v-1h1v-2h1z"/>
<path class="k" d="M715 478h1v2h1v2h1v2h1v1h-7v-2h1v-2h1v-2h1z"/><path class="b" d="M715 480h1v2h1v2h-4v-1h1v-2h1z"/>
<path class="k" d="M716 485h1v2h1v2h1v2h1v1h-7v-2h1v-2h1v-2h1z"/><path class="b" d="M716 487h1v2h1v2h-4v-1h1v-2h1z"/>
<path class="k" d="M717 482h1v2h1v2h1v2h1v1h-7v-2h1v-2h1v-2h1z"/><path class="b" d="M717 484h1v2h1v2h-4v-1h1v-2h1z"/>
<path class="k" d="M718 478h1v2h1v2h1v2h1v1h-7v-2h1v-2h1v-2h1z"/><path class="b" d="M718 480h1v2h1v2h-4v-1h1v-2h1z"/>
<path class="k" d="M719 488h1v2h1v2h1v2h1v1h-7v-2h1v-2h1v-2h1z"/><path class="b" d="M719 490h1v2h1v2h-4v-1h1v-2h1z"/>
<path class="k" d="M720 486h1v2h1v2h1v2h1v1h-7v-2h1v-2h1v-2h1z"/><path class="b" d="M720 488h1v2h1v2h-4v-1h1v-2h1z"/>
<path class="k" d="M723 477h1v2h1v2h1v2h1v1h-7v-2h1v-2h1v-2h1z"/><path class="b" d="M723 479h1v2h1v2h-4v-1h1v-2h1z"/>
<path class="k" d="M724 467h1v2h1v2h1v2h1v1h-7v-2h1v-2h1v-2h1z"/><path class="b" d="M724 469h1v2h1v2h-4v-1h1v-2h1z"/>
<path class="k" d="M724 462h1v2h1v2h1v2h1v1h-7v-2h1v-2h1v-2h1z"/><path class="b" d="M724 464h1v2h1v2h-4v-1h1v-2h1z"/>
<path class="k" d="M728 470h1v2h1v2h1v2h1v1h-7v-2h1v-2h1v-2h1z"/><path class="b" d="M728 472h1v2h1v2h-4v-1h1v-2h1z"/>
<path class="k" d="M728 475h1v2h1v2h1v2h1v1h-7v-2h1v-2h1v-2h1z"/><path class="b" d="M728 477h1v2h1v2h-4v-1h1v-2h1z"/>
<path class="k" d="M731 467h1v2h1v2h1v2h1v1h-7v-2h1v-2h1v-2h1z"/><path class="b" d="M731 469h1v2h1v2h-4v-1h1v-2h1z"/>
<path class="k" d="M731 446h1v2h1v2h1v2h1v1h-7v-2h1v-2h1v-2h1z"/><path class="b" d="M731 448h1v2h1v2h-4v-1h1v-2h1z"/>
<path class="k" d="M734 470h1v2h1v2h1v2h1v1h-7v-2h1v-2h1v-2h1z"/><path class="b" d="M734 472h1v2h1v2h-4v-1h1v-2h1z"/>
<path class="k" d="M735 483h1v2h1v2h1v2h1v1h-7v-2h1v-2h1v-2h1z"/><path class="b" d="M735 485h1v2h1v2h-4v-1h1v-2h1z"/>
<path class="k" d="M736 464h1v2h1v2h1v2h1v1h-7v-2h1v-2h1v-2h1z"/><path class="b" d="M736 466h1v2h1v2h-4v-1h1v-2h1z"/>
<path class="k" d="M739 456h1v2h1v2h1v2h1v1h-7v-2h1v-2h1v-2h1z"/><path class="b" d="M739 458h1v2h1v2h-4v-1h1v-2h1z"/>
<path class="k" d="M740 450h1v2h1v2h1v2h1v1h-7v-2h1v-2h1v-2h1z"/><path class="b" d="M740 452h1v2h1v2h-4v-1h1v-2h1z"/>
<path class="k" d="M741 460h1v2h1v2h1v2h1v1h-7v-2h1v-2h1v-2h1z"/><path class="b" d="M741 462h1v2h1v2h-4v-1h1v-2h1z"/>
<path class="k" d="M744 452h1v2h1v2h1v2h1v1h-7v-2h1v-2h1v-2h1z"/><path class="b" d="M744 454h1v2h1v2h-4v-1h1v-2h1z"/>
<path class="k" d="M745 449h1v2h1v2h1v2h1v1h-7v-2h1v-2h1v-2h1z"/><path class="b" d="M745 451h1v2h1v2h-4v-1h1v-2h1z"/>
<path class="k" d="M751 460h1v2h1v2h1v2h1v1h-7v-2h1v-2h1v-2h1z"/><path class="b" d="M751 462h1v2h1v2h-4v-1h1v-2h1z"/>
<path class="k" d="M754 446h1v2h1v2h1v2h1v1h-7v-2h1v-2h1v-2h1z"/><path class="b" d="M754 448h1v2h1v2h-4v-1h1v-2h1z"/>
<path class="k" d="M754 471h1v2h1v2h1v2h1v1h-7v-2h1v-2h1v-2h1z"/><path class="b" d="M754 473h1v2h1v2h-4v-1h1v-2h1z"/>
<path class="k" d="M755 478h1v2h1v2h1v2h1v1h-7v-2h1v-2h1v-2h1z"/><path class="b" d="M755 480h1v2h1v2h-4v-1h1v-2h1z"/>
<path class="k" d="M756 490h1v2h1v2h1v2h1v1h-7v-2h1v-2h1v-2h1z"/><path class="b" d="M756 492h1v2h1v2h-4v-1h1v-2h1z"/>
<path class="k" d="M759 488h1v2h1v2h1v2h1v1h-7v-2h1v-2h1v-2h1z"/><path class="b" d="M759 490h1v2h1v2h-4v-1h1v-2h1z"/>
<path class="k" d="M763 490h1v2h1v2h1v2h1v1h-7v-2h1v-2h1v-2h1z"/><path class="b" d="M763 492h1v2h1v2h-4v-1h1v-2h1z"/>
<path class="k" d="M764 488h1v2h1v2h1v2h1v1h-7v-2h1v-2h1v-2h1z"/><path class="b" d="M764 490h1v2h1v2h-4v-1h1v-2h1z"/>
<path class="k" d="M766 493h1v2h1v2h1v2h1v1h-7v-2h1v-2h1v-2h1z"/><path class="b" d="M766 495h1v2h1v2h-4v-1h1v-2h1z"/>
<path class="k" d="M767 490h1v2h1v2h1v2h1v1h-7v-2h1v-2h1v-2h1z"/><path class="b" d="M767 492h1v2h1v2h-4v-1h1v-2h1z"/>
<path class="k" d="M768 510h1v2h1v2h1v2h1v1h-7v-2h1v-2h1v-2h1z"/><path class="b" d="M768 512h1v2h1v2h-4v-1h1v-2h1z"/>
<path class="k" d="M769 508h1v2h1v2h1v2h1v1h-7v-2h1v-2h1v-2h1z"/><path class="b" d="M769 510h1v2h1v2h-4v-1h1v-2h1z"/>
<path class="k" d="M770 516h1v2h1v2h1v2h1v1h-7v-2h1v-2h1v-2h1z"/><path class="b" d="M770 518h1v2h1v2h-4v-1h1v-2h1z"/>
<path class="k" d="M770 518h1v2h1v2h1v2h1v1h-7v-2h1v-2h1v-2h1z"/><path class="b" d="M770 520h1v2h1v2h-4v-1h1v-2h1z"/>
<path class="k" d="M771 531h1v2h1v2h1v2h1v1h-7v-2h1v-2h1v-2h1z"/><path class="b" d="M771 533h1v2h1v2h-4v-1h1v-2h1z"/>
<path class="k" d="M869 539h1v2h1v2h1v2h1v1h-7v-2h1v-2h1v-2h1z"/><path class="b" d="M869 541h1v2h1v2h-4v-1h1v-2h1z"/>
<path class="k" d="M870 522h1v2h1v2h1v2h1v1h-7v-2h1v-2h1v-2h1z"/><path class="b" d="M870 524h1v2h1v2h-4v-1h1v-2h1z"/>
<path class="k" d="M870 532h1v2h1v2h1v2h1v1h-7v-2h1v-2h1v-2h1z"/><path class="b" d="M870 534h1v2h1v2h-4v-1h1v-2h1z"/>
<path class="k" d="M872 514h1v2h1v2h1v2h1v1h-7v-2h1v-2h1v-2h1z"/><path class="b" d="M872 516h1v2h1v2h-4v-1h1v-2h1z"/>
<path class="k" d="M874 492h1v2h1v2h1v2h1v1h-7v-2h1v-2h1v-2h1z"/><path class="b" d="M874 494h1v2h1v2h-4v-1h1v-2h1z"/>
<path class="k" d="M875 497h1v2h1v2h1v2h1v1h-7v-2h1v-2h1v-2h1z"/><path class="b" d="M875 499h1v2h1v2h-4v-1h1v-2h1z"/>
<path class="k" d="M877 491h1v2h1v2h1v2h1v1h-7v-2h1v-2h1v-2h1z"/><path class="b" d="M877 493h1v2h1v2h-4v-1h1v-2h1z"/>
<path class="k" d="M878 487h1v2h1v2h1v2h1v1h-7v-2h1v-2h1v-2h1z"/><path class="b" d="M878 489h1v2h1v2h-4v-1h1v-2h1z"/>
<path class="k" d="M879 475h1v2h1v2h1v2h1v1h-7v-2h1v-2h1v-2h1z"/><path class="b" d="M879 477h1v2h1v2h-4v-1h1v-2h1z"/>
<path class="k" d="M881 481h1v2h1v2h1v2h1v1h-7v-2h1v-2h1v-2h1z"/><path class="b" d="M881 483h1v2h1v2h-4v-1h1v-2h1z"/>
<path class="k" d="M883 477h1v2h1v2h1v2h1v1h-7v-2h1v-2h1v-2h1z"/><path class="b" d="M883 479h1v2h1v2h-4v-1h1v-2h1z"/>
<path class="k" d="M884 461h1v2h1v2h1v2h1v1h-7v-2h1v-2h1v-2h1z"/><path class="b" d="M884 463h1v2h1v2h-4v-1h1v-2h1z"/>
<path class="k" d="M885 470h1v2h1v2h1v2h1v1h-7v-2h1v-2h1v-2h1z"/><path class="b" d="M885 472h1v2h1v2h-4v-1h1v-2h1z"/>
<path class="k" d="M885 480h1v2h1v2h1v2h1v1h-7v-2h1v-2h1v-2h1z"/><path class="b" d="M885 482h1v2h1v2h-4v-1h1v-2h1z"/>
<path class="k" d="M886 468h1v2h1v2h1v2h1v1h-7v-2h1v-2h1v-2h1z"/><path class="b" d="M886 470h1v2h1v2h-4v-1h1v-2h1z"/>
<path class="k" d="M889 466h1v2h1v2h1v2h1v1h-7v-2h1v-2h1v-2h1z"/><path class="b" d="M889 468h1v2h1v2h-4v-1h1v-2h1z"/>
<path class="k" d="M889 458h1v2h1v2h1v2h1v1h-7v-2h1v-2h1v-2h1z"/><path class="b" d="M889 460h1v2h1v2h-4v-1h1v-2h1z"/>
<path class="k" d="M890 470h1v2h1v2h1v2h1v1h-7v-2h1v-2h1v-2h1z"/><path class="b" d="M890 472h1v2h1v2h-4v-1h1v-2h1z"/>
<path class="k" d="M892 464h1v2h1v2h1v2h1v1h-7v-2h1v-2h1v-2h1z"/><path class="b" d="M892 466h1v2h1v2h-4v-1h1v-2h1z"/>
<path class="k" d="M893 460h1v2h1v2h1v2h1v1h-7v-2h1v-2h1v-2h1z"/><path class="b" d="M893 462h1v2h1v2h-4v-1h1v-2h1z"/>
<path class="k" d="M893 469h1v2h1v2h1v2h1v1h-7v-2h1v-2h1v-2h1z"/><path class="b" d="M893 471h1v2h1v2h-4v-1h1v-2h1z"/>
<path class="k" d="M895 451h1v2h1v2h1v2h1v1h-7v-2h1v-2h1v-2h1z"/><path class="b" d="M895 453h1v2h1v2h-4v-1h1v-2h1z"/>
<path class="k" d="M896 460h1v2h1v2h1v2h1v1h-7v-2h1v-2h1v-2h1z"/><path class="b" d="M896 462h1v2h1v2h-4v-1h1v-2h1z"/>
<path class="k" d="M897 446h1v2h1v2h1v2h1v1h-7v-2h1v-2h1v-2h1z"/><path class="b" d="M897 448h1v2h1v2h-4v-1h1v-2h1z"/>
<path class="k" d="M897 452h1v2h1v2h1v2h1v1h-7v-2h1v-2h1v-2h1z"/><path class="b" d="M897 454h1v2h1v2h-4v-1h1v-2h1z"/>
<path class="k" d="M898 461h1v2h1v2h1v2h1v1h-7v-2h1v-2h1v-2h1z"/><path class="b" d="M898 463h1v2h1v2h-4v-1h1v-2h1z"/>
<path class="k" d="M900 448h1v2h1v2h1v2h1v1h-7v-2h1v-2h1v-2h1z"/><path class="b" d="M900 450h1v2h1v2h-4v-1h1v-2h1z"/>
<path class="k" d="M900 457h1v2h1v2h1v2h1v1h-7v-2h1v-2h1v-2h1z"/><path class="b" d="M900 459h1v2h1v2h-4v-1h1v-2h1z"/>
<path class="k" d="M902 446h1v2h1v2h1v2h1v1h-7v-2h1v-2h1v-2h1z"/><path class="b" d="M902 448h1v2h1v2h-4v-1h1v-2h1z"/>
<path class="k" d="M905 439h1v2h1v2h1v2h1v1h-7v-2h1v-2h1v-2h1z"/><path class="b" d="M905 441h1v2h1v2h-4v-1h1v-2h1z"/>
<path class="k" d="M906 437h1v2h1v2h1v2h1v1h-7v-2h1v-2h1v-2h1z"/><path class="b" d="M906 439h1v2h1v2h-4v-1h1v-2h1z"/>
<path class="k" d="M907 451h1v2h1v2h1v2h1v1h-7v-2h1v-2h1v-2h1z"/><path class="b" d="M907 453h1v2h1v2h-4v-1h1v-2h1z"/>
<path class="k" d="M908 445h1v2h1v2h1v2h1v1h-7v-2h1v-2h1v-2h1z"/><path class="b" d="M908 447h1v2h1v2h-4v-1h1v-2h1z"/>
<path class="k" d="M910 438h1v2h1v2h1v2h1v1h-7v-2h1v-2h1v-2h1z"/><path class="b" d="M910 440h1v2h1v2h-4v-1h1v-2h1z"/>
<path class="k" d="M910 453h1v2h1v2h1v2h1v1h-7v-2h1v-2h1v-2h1z"/><path class="b" d="M910 455h1v2h1v2h-4v-1h1v-2h1z"/>
<path class="k" d="M911 441h1v2h1v2h1v2h1v1h-7v-2h1v-2h1v-2h1z"/><path class="b" d="M911 443h1v2h1v2h-4v-1h1v-2h1z"/>
<path class="k" d="M911 456h1v2h1v2h1v2h1v1h-7v-2h1v-2h1v-2h1z"/><path class="b" d="M911 458h1v2h1v2h-4v-1h1v-2h1z"/>
<path class="k" d="M912 446h1v2h1v2h1v2h1v1h-7v-2h1v-2h1v-2h1z"/><path class="b" d="M912 448h1v2h1v2h-4v-1h1v-2h1z"/>
<path class="k" d="M914 439h1v2h1v2h1v2h1v1h-7v-2h1v-2h1v-2h1z"/><path class="b" d="M914 441h1v2h1v2h-4v-1h1v-2h1z"/>
<path class="k" d="M916 475h1v2h1v2h1v2h1v1h-7v-2h1v-2h1v-2h1z"/><path class="b" d="M916 477h1v2h1v2h-4v-1h1v-2h1z"/>
<path class="k" d="M917 472h1v2h1v2h1v2h1v1h-7v-2h1v-2h1v-2h1z"/><path class="b" d="M917 474h1v2h1v2h-4v-1h1v-2h1z"/>
<path class="k" d="M917 474h1v2h1v2h1v2h1v1h-7v-2h1v-2h1v-2h1z"/><path class="b" d="M917 476h1v2h1v2h-4v-1h1v-2h1z"/>
<path class="k" d="M918 472h1v2h1v2h1v2h1v1h-7v-2h1v-2h1v-2h1z"/><path class="b" d="M918 474h1v2h1v2h-4v-1h1v-2h1z"/>
<path class="k" d="M919 473h1v2h1v2h1v2h1v1h-7v-2h1v-2h1v-2h1z"/><path class="b" d="M919 475h1v2h1v2h-4v-1h1v-2h1z"/>
<path class="k" d="M919 478h1v2h1v2h1v2h1v1h-7v-2h1v-2h1v-2h1z"/><path class="b" d="M919 480h1v2h1v2h-4v-1h1v-2h1z"/>
<path class="k" d="M920 474h1v2h1v2h1v2h1v1h-7v-2h1v-2h1v-2h1z"/><path class="b" d="M920 476h1v2h1v2h-4v-1h1v-2h1z"/>
<path class="k" d="M921 476h1v2h1v2h1v2h1v1h-7v-2h1v-2h1v-2h1z"/><path class="b" d="M921 478h1v2h1v2h-4v-1h1v-2h1z"/>
<path class="k" d="M922 478h1v2h1v2h1v2h1v1h-7v-2h1v-2h1v-2h1z"/><path class="b" d="M922 480h1v2h1v2h-4v-1h1v-2h1z"/>
<path class="k" d="M923 472h1v2h1v2h1v2h1v1h-7v-2h1v-2h1v-2h1z"/><path class="b" d="M923 474h1v2h1v2h-4v-1h1v-2h1z"/>
<path class="k" d="M924 475h1v2h1v2h1v2h1v1h-7v-2h1v-2h1v-2h1z"/><path class="b" d="M924 477h1v2h1v2h-4v-1h1v-2h1z"/>
<path class="k" d="M924 480h1v2h1v2h1v2h1v1h-7v-2h1v-2h1v-2h1z"/><path class="b" d="M924 482h1v2h1v2h-4v-1h1v-2h1z"/>
<path class="k" d="M926 480h1v2h1v2h1v2h1v1h-7v-2h1v-2h1v-2h1z"/><path class="b" d="M926 482h1v2h1v2h-4v-1h1v-2h1z"/>
<path class="k" d="M927 490h1v2h1v2h1v2h1v1h-7v-2h1v-2h1v-2h1z"/><path class="b" d="M927 492h1v2h1v2h-4v-1h1v-2h1z"/>
<path class="k" d="M928 496h1v2h1v2h1v2h1v1h-7v-2h1v-2h1v-2h1z"/><path class="b" d="M928 498h1v2h1v2h-4v-1h1v-2h1z"/>
<path class="k" d="M929 501h1v2h1v2h1v2h1v1h-7v-2h1v-2h1v-2h1z"/><path class="b" d="M929 503h1v2h1v2h-4v-1h1v-2h1z"/>
<path class="k" d="M930 508h1v2h1v2h1v2h1v1h-7v-2h1v-2h1v-2h1z"/><path class="b" d="M930 510h1v2h1v2h-4v-1h1v-2h1z"/>
<path class="k" d="M931 503h1v2h1v2h1v2h1v1h-7v-2h1v-2h1v-2h1z"/><path class="b" d="M931 505h1v2h1v2h-4v-1h1v-2h1z"/>
<path class="k" d="M932 517h1v2h1v2h1v2h1v1h-7v-2h1v-2h1v-2h1z"/><path class="b" d="M932 519h1v2h1v2h-4v-1h1v-2h1z"/>
<path class="k" d="M933 532h1v2h1v2h1v2h1v1h-7v-2h1v-2h1v-2h1z"/><path class="b" d="M933 534h1v2h1v2h-4v-1h1v-2h1z"/>
<path class="k" d="M934 548h1v2h1v2h1v2h1v1h-7v-2h1v-2h1v-2h1z"/><path class="b" d="M934 550h1v2h1v2h-4v-1h1v-2h1z"/>
<path class="k" d="M1031 551h1v2h1v2h1v2h1v1h-7v-2h1v-2h1v-2h1z"/><path class="b" d="M1031 553h1v2h1v2h-4v-1h1v-2h1z"/>
<path class="k" d="M1032 534h1v2h1v2h1v2h1v1h-7v-2h1v-2h1v-2h1z"/><path class="b" d="M1032 536h1v2h1v2h-4v-1h1v-2h1z"/>
<path class="k" d="M1033 530h1v2h1v2h1v2h1v1h-7v-2h1v-2h1v-2h1z"/><path class="b" d="M1033 532h1v2h1v2h-4v-1h1v-2h1z"/>
<path class="k" d="M1034 513h1v2h1v2h1v2h1v1h-7v-2h1v-2h1v-2h1z"/><path class="b" d="M1034 515h1v2h1v2h-4v-1h1v-2h1z"/>
<path class="k" d="M1036 498h1v2h1v2h1v2h1v1h-7v-2h1v-2h1v-2h1z"/><path class="b" d="M1036 500h1v2h1v2h-4v-1h1v-2h1z"/>
<path class="k" d="M1037 494h1v2h1v2h1v2h1v1h-7v-2h1v-2h1v-2h1z"/><path class="b" d="M1037 496h1v2h1v2h-4v-1h1v-2h1z"/>
<path class="k" d="M1038 491h1v2h1v2h1v2h1v1h-7v-2h1v-2h1v-2h1z"/><path class="b" d="M1038 493h1v2h1v2h-4v-1h1v-2h1z"/>
<path class="k" d="M1039 486h1v2h1v2h1v2h1v1h-7v-2h1v-2h1v-2h1z"/><path class="b" d="M1039 488h1v2h1v2h-4v-1h1v-2h1z"/>
<path class="k" d="M1040 478h1v2h1v2h1v2h1v1h-7v-2h1v-2h1v-2h1z"/><path class="b" d="M1040 480h1v2h1v2h-4v-1h1v-2h1z"/>
<path class="k" d="M1040 488h1v2h1v2h1v2h1v1h-7v-2h1v-2h1v-2h1z"/><path class="b" d="M1040 490h1v2h1v2h-4v-1h1v-2h1z"/>
<path class="k" d="M1041 472h1v2h1v2h1v2h1v1h-7v-2h1v-2h1v-2h1z"/><path class="b" d="M1041 474h1v2h1v2h-4v-1h1v-2h1z"/>
<path class="k" d="M1047 457h1v2h1v2h1v2h1v1h-7v-2h1v-2h1v-2h1z"/><path class="b" d="M1047 459h1v2h1v2h-4v-1h1v-2h1z"/>
<path class="k" d="M1051 465h1v2h1v2h1v2h1v1h-7v-2h1v-2h1v-2h1z"/><path class="b" d="M1051 467h1v2h1v2h-4v-1h1v-2h1z"/>
<path class="k" d="M1052 463h1v2h1v2h1v2h1v1h-7v-2h1v-2h1v-2h1z"/><path class="b" d="M1052 465h1v2h1v2h-4v-1h1v-2h1z"/>
<path class="k" d="M1055 477h1v2h1v2h1v2h1v1h-7v-2h1v-2h1v-2h1z"/><path class="b" d="M1055 479h1v2h1v2h-4v-1h1v-2h1z"/>
<path class="k" d="M1055 452h1v2h1v2h1v2h1v1h-7v-2h1v-2h1v-2h1z"/><path class="b" d="M1055 454h1v2h1v2h-4v-1h1v-2h1z"/>
<path class="k" d="M1055 466h1v2h1v2h1v2h1v1h-7v-2h1v-2h1v-2h1z"/><path class="b" d="M1055 468h1v2h1v2h-4v-1h1v-2h1z"/>
<path class="k" d="M1058 463h1v2h1v2h1v2h1v1h-7v-2h1v-2h1v-2h1z"/><path class="b" d="M1058 465h1v2h1v2h-4v-1h1v-2h1z"/>
<path class="k" d="M1058 474h1v2h1v2h1v2h1v1h-7v-2h1v-2h1v-2h1z"/><path class="b" d="M1058 476h1v2h1v2h-4v-1h1v-2h1z"/>
<path class="k" d="M1059 472h1v2h1v2h1v2h1v1h-7v-2h1v-2h1v-2h1z"/><path class="b" d="M1059 474h1v2h1v2h-4v-1h1v-2h1z"/>
<path class="k" d="M1059 460h1v2h1v2h1v2h1v1h-7v-2h1v-2h1v-2h1z"/><path class="b" d="M1059 462h1v2h1v2h-4v-1h1v-2h1z"/>
<path class="k" d="M1060 459h1v2h1v2h1v2h1v1h-7v-2h1v-2h1v-2h1z"/><path class="b" d="M1060 461h1v2h1v2h-4v-1h1v-2h1z"/>
<path class="k" d="M1062 467h1v2h1v2h1v2h1v1h-7v-2h1v-2h1v-2h1z"/><path class="b" d="M1062 469h1v2h1v2h-4v-1h1v-2h1z"/>
<path class="k" d="M1063 470h1v2h1v2h1v2h1v1h-7v-2h1v-2h1v-2h1z"/><path class="b" d="M1063 472h1v2h1v2h-4v-1h1v-2h1z"/>
<path class="k" d="M1064 464h1v2h1v2h1v2h1v1h-7v-2h1v-2h1v-2h1z"/><path class="b" d="M1064 466h1v2h1v2h-4v-1h1v-2h1z"/>
<path class="k" d="M1066 464h1v2h1v2h1v2h1v1h-7v-2h1v-2h1v-2h1z"/><path class="b" d="M1066 466h1v2h1v2h-4v-1h1v-2h1z"/>
<path class="k" d="M1066 466h1v2h1v2h1v2h1v1h-7v-2h1v-2h1v-2h1z"/><path class="b" d="M1066 468h1v2h1v2h-4v-1h1v-2h1z"/>
<path class="k" d="M1066 468h1v2h1v2h1v2h1v1h-7v-2h1v-2h1v-2h1z"/><path class="b" d="M1066 470h1v2h1v2h-4v-1h1v-2h1z"/>
<path class="k" d="M1067 471h1v2h1v2h1v2h1v1h-7v-2h1v-2h1v-2h1z"/><path class="b" d="M1067 473h1v2h1v2h-4v-1h1v-2h1z"/>
<path class="k" d="M1068 461h1v2h1v2h1v2h1v1h-7v-2h1v-2h1v-2h1z"/><path class="b" d="M1068 463h1v2h1v2h-4v-1h1v-2h1z"/>
<path class="k" d="M1069 468h1v2h1v2h1v2h1v1h-7v-2h1v-2h1v-2h1z"/><path class="b" d="M1069 470h1v2h1v2h-4v-1h1v-2h1z"/>
<path class="k" d="M1070 471h1v2h1v2h1v2h1v1h-7v-2h1v-2h1v-2h1z"/><path class="b" d="M1070 473h1v2h1v2h-4v-1h1v-2h1z"/>
<path class="k" d="M1071 465h1v2h1v2h1v2h1v1h-7v-2h1v-2h1v-2h1z"/><path class="b" d="M1071 467h1v2h1v2h-4v-1h1v-2h1z"/>
<path class="k" d="M1072 484h1v2h1v2h1v2h1v1h-7v-2h1v-2h1v-2h1z"/><path class="b" d="M1072 486h1v2h1v2h-4v-1h1v-2h1z"/>
<path class="k" d="M1073 461h1v2h1v2h1v2h1v1h-7v-2h1v-2h1v-2h1z"/><path class="b" d="M1073 463h1v2h1v2h-4v-1h1v-2h1z"/>
<path class="k" d="M1073 467h1v2h1v2h1v2h1v1h-7v-2h1v-2h1v-2h1z"/><path class="b" d="M1073 469h1v2h1v2h-4v-1h1v-2h1z"/>
<path class="k" d="M1074 474h1v2h1v2h1v2h1v1h-7v-2h1v-2h1v-2h1z"/><path class="b" d="M1074 476h1v2h1v2h-4v-1h1v-2h1z"/>
<path class="k" d="M1076 475h1v2h1v2h1v2h1v1h-7v-2h1v-2h1v-2h1z"/><path class="b" d="M1076 477h1v2h1v2h-4v-1h1v-2h1z"/>
<path class="k" d="M1077 485h1v2h1v2h1v2h1v1h-7v-2h1v-2h1v-2h1z"/><path class="b" d="M1077 487h1v2h1v2h-4v-1h1v-2h1z"/>
<path class="k" d="M1078 471h1v2h1v2h1v2h1v1h-7v-2h1v-2h1v-2h1z"/><path class="b" d="M1078 473h1v2h1v2h-4v-1h1v-2h1z"/>
<path class="k" d="M1080 469h1v2h1v2h1v2h1v1h-7v-2h1v-2h1v-2h1z"/><path class="b" d="M1080 471h1v2h1v2h-4v-1h1v-2h1z"/>
<path class="k" d="M1081 466h1v2h1v2h1v2h1v1h-7v-2h1v-2h1v-2h1z"/><path class="b" d="M1081 468h1v2h1v2h-4v-1h1v-2h1z"/>
<path class="k" d="M1082 481h1v2h1v2h1v2h1v1h-7v-2h1v-2h1v-2h1z"/><path class="b" d="M1082 483h1v2h1v2h-4v-1h1v-2h1z"/>
<path class="k" d="M1083 461h1v2h1v2h1v2h1v1h-7v-2h1v-2h1v-2h1z"/><path class="b" d="M1083 463h1v2h1v2h-4v-1h1v-2h1z"/>
<path class="k" d="M1091 506h1v2h1v2h1v2h1v1h-7v-2h1v-2h1v-2h1z"/><path class="b" d="M1091 508h1v2h1v2h-4v-1h1v-2h1z"/>
<path class="k" d="M1095 539h1v2h1v2h1v2h1v1h-7v-2h1v-2h1v-2h1z"/><path class="b" d="M1095 541h1v2h1v2h-4v-1h1v-2h1z"/>
<path class="k" d="M1095 535h1v2h1v2h1v2h1v1h-7v-2h1v-2h1v-2h1z"/><path class="b" d="M1095 537h1v2h1v2h-4v-1h1v-2h1z"/>
</g>
<g class="g">
<rect x="1171.5" y="63.5" width="174" height="31" fill="#fff" stroke="#000" stroke-width="1"/>
<rect class="ax" x="1171" y="79" width="175" height="1"/>
<path class="k" d="M1202 69h2v1h1v1h1v2h-1v1h-1v1h-2v-1h-1v-1h-1v-2h1v-1h1z"/><path class="b" d="M1202 70h2v1h1v2h-1v1h-2v-1h-1v-2h1z"/>
<path class="k" d="M1203 83h1v2h1v2h1v2h1v1h-7v-2h1v-2h1v-2h1z"/><path class="b" d="M1203 85h1v2h1v2h-4v-1h1v-2h1z"/>
</g>
<g>
<text x="576.9" y="17" class="m" textLength="104.5" lengthAdjust="spacing">Ozone airmass factor</text>
<text x="54.5" y="31" class="m">2,4</text>
<text x="83.5" y="31" class="m">1,1</text>
<text x="137.5" y="31" class="m">5,3</text>
<text x="192.5" y="31" class="m">3,4</text>
<text x="237.5" y="31" class="m">1,2</text>
<text x="281.5" y="31" class="m">2,4</text>
<text x="465.5" y="31" class="m">5,0</text>
<text x="519.5" y="31" class="m">3,3</text>
<text x="564.5" y="31" class="m">1,2</text>
<text x="608.5" y="31" class="m">2,4</text>
<text x="683.5" y="31" class="m">3,4</text>
<text x="727.5" y="31" class="m">1,2</text>
<text x="771.5" y="31" class="m">2,3</text>
<text x="846.5" y="31" class="m">3,4</text>
<text x="890.5" y="31" class="m">1,2</text>
<text x="934.5" y="31" class="m">2,3</text>
<text x="1009.5" y="31" class="m">3,3</text>
<text x="1054.5" y="31" class="m">1,2</text>
<text x="1098.5" y="31" class="m">2,2</text>
<text x="49.3" y="44.2" class="e">360</text>
<text x="49.3" y="81.2" class="e">355</text>
<text x="49.3" y="118.2" class="e">350</text>
<text x="49.3" y="156.2" class="e">345</text>
<text x="49.3" y="193.2" class="e">340</text>
<text x="49.3" y="230.2" class="e">335</text>
<text x="49.3" y="267.2" class="e">330</text>
<text x="49.3" y="304.2" class="e">325</text>
<text x="49.3" y="342.2" class="e">320</text>
<text x="49.3" y="379.2" class="e">315</text>
<text x="49.3" y="416.2" class="e">310</text>
<text x="1105.5" y="416.2">4</text>
<text x="1105.5" y="443.2">3</text>
<text x="1105.5" y="469.2">2</text>
<text x="1105.5" y="496.2">1</text>
<text x="1105.5" y="523.2">0</text>
<text x="1105.5" y="549.2">-1</text>
<text x="181.7" y="589" class="m" textLength="76.3" lengthAdjust="spacing">Απρ 26/22, 00h</text>
<text x="343.7" y="589" class="m" textLength="76.3" lengthAdjust="spacing">Απρ 27/22, 00h</text>
<text x="506.7" y="589" class="m" textLength="76.3" lengthAdjust="spacing">Απρ 28/22, 00h</text>
<text x="668.7" y="589" class="m" textLength="76.3" lengthAdjust="spacing">Απρ 29/22, 00h</text>
<text x="830.7" y="589" class="m" textLength="76.3" lengthAdjust="spacing">Απρ 30/22, 00h</text>
<text x="993.7" y="589" class="m" textLength="69.2" lengthAdjust="spacing">Μαϊ 01/22, 00h</text>
<text x="577.2" y="603" class="m" textLength="20.6" lengthAdjust="spacing">UTC</text>
<text x="574" y="623" class="m" style="font-size:12px;fill:#008080;stroke:#008080" textLength="130.5" lengthAdjust="spacing">Athens (37,99N,23,78E)</text>
<text transform="translate(25,226.5) rotate(-90)" class="m">Ozone, DU</text>
<text transform="translate(1121,491.5) rotate(90)" class="m">SO2, DU</text>
<text x="1234.5" y="76" xml:space="preserve" textLength="105" lengthAdjust="spacing">001 ds o3  n (dR6: -5)</text>
<text x="1234.5" y="90" textLength="108.7" lengthAdjust="spacing">001 ds so2 n (dR5: -3)</text>
</g>
</svg></body></html>
